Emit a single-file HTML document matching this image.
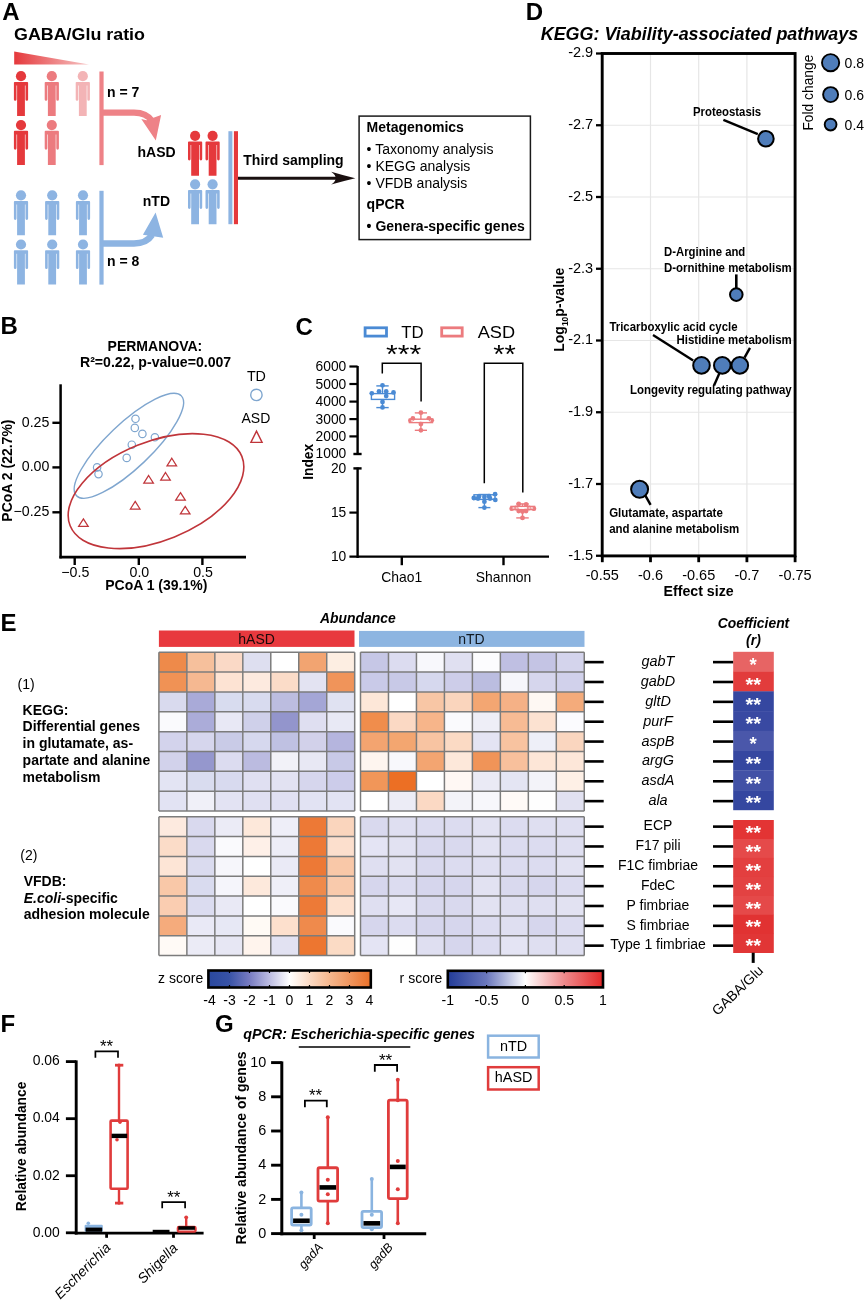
<!DOCTYPE html>
<html><head><meta charset="utf-8"><title>Figure</title>
<style>
html,body{margin:0;padding:0;background:#fff;}
body{width:865px;height:1302px;overflow:hidden;}
svg{display:block;font-family:"Liberation Sans", Arial, sans-serif;will-change:transform;}
</style></head>
<body>
<svg width="865" height="1302" viewBox="0 0 865 1302">
<rect width="865" height="1302" fill="#fff"/>
<text x="2.20" y="19.70" font-size="24" font-weight="bold">A</text>
<text x="14.00" y="40.20" font-size="17.3" font-weight="bold" textLength="131" lengthAdjust="spacingAndGlyphs">GABA/Glu ratio</text>
<defs><linearGradient id="tri" x1="0" x2="1" y1="0" y2="0"><stop offset="0" stop-color="#e5393c"/><stop offset="1" stop-color="#f6c4c4"/></linearGradient></defs>
<path d="M14.2,51.5 L89,64.4 L14.2,64.4 Z" fill="url(#tri)"/>
<g fill="#e5393c"><circle cx="21.00" cy="76.20" r="5.1"/><path d="M13.90,82.80 q0,-0.9 0.9,-0.9 h12.4 q0.9,0 0.9,0.9 v16.6 q0,1.4 -1.3,1.4 q-1.3,0 -1.3,-1.4 v-13.9 h-0.6 v30.6 h-7.8 v-30.6 h-0.6 v13.9 q0,1.4 -1.3,1.4 q-1.3,0 -1.3,-1.4 z"/></g>
<g fill="#ec7b7f"><circle cx="51.80" cy="76.20" r="5.1"/><path d="M44.70,82.80 q0,-0.9 0.9,-0.9 h12.4 q0.9,0 0.9,0.9 v16.6 q0,1.4 -1.3,1.4 q-1.3,0 -1.3,-1.4 v-13.9 h-0.6 v30.6 h-7.8 v-30.6 h-0.6 v13.9 q0,1.4 -1.3,1.4 q-1.3,0 -1.3,-1.4 z"/></g>
<g fill="#f3b4b6"><circle cx="82.80" cy="76.20" r="5.1"/><path d="M75.70,82.80 q0,-0.9 0.9,-0.9 h12.4 q0.9,0 0.9,0.9 v16.6 q0,1.4 -1.3,1.4 q-1.3,0 -1.3,-1.4 v-13.9 h-0.6 v30.6 h-7.8 v-30.6 h-0.6 v13.9 q0,1.4 -1.3,1.4 q-1.3,0 -1.3,-1.4 z"/></g>
<g fill="#e5393c"><circle cx="21.00" cy="125.10" r="5.1"/><path d="M13.90,131.70 q0,-0.9 0.9,-0.9 h12.4 q0.9,0 0.9,0.9 v16.6 q0,1.4 -1.3,1.4 q-1.3,0 -1.3,-1.4 v-13.9 h-0.6 v30.6 h-7.8 v-30.6 h-0.6 v13.9 q0,1.4 -1.3,1.4 q-1.3,0 -1.3,-1.4 z"/></g>
<g fill="#ec7b7f"><circle cx="51.80" cy="125.10" r="5.1"/><path d="M44.70,131.70 q0,-0.9 0.9,-0.9 h12.4 q0.9,0 0.9,0.9 v16.6 q0,1.4 -1.3,1.4 q-1.3,0 -1.3,-1.4 v-13.9 h-0.6 v30.6 h-7.8 v-30.6 h-0.6 v13.9 q0,1.4 -1.3,1.4 q-1.3,0 -1.3,-1.4 z"/></g>
<g fill="#8db4e2"><circle cx="21.00" cy="195.30" r="5.1"/><path d="M13.90,201.90 q0,-0.9 0.9,-0.9 h12.4 q0.9,0 0.9,0.9 v16.6 q0,1.4 -1.3,1.4 q-1.3,0 -1.3,-1.4 v-13.9 h-0.6 v30.6 h-7.8 v-30.6 h-0.6 v13.9 q0,1.4 -1.3,1.4 q-1.3,0 -1.3,-1.4 z"/></g>
<g fill="#8db4e2"><circle cx="52.20" cy="195.30" r="5.1"/><path d="M45.10,201.90 q0,-0.9 0.9,-0.9 h12.4 q0.9,0 0.9,0.9 v16.6 q0,1.4 -1.3,1.4 q-1.3,0 -1.3,-1.4 v-13.9 h-0.6 v30.6 h-7.8 v-30.6 h-0.6 v13.9 q0,1.4 -1.3,1.4 q-1.3,0 -1.3,-1.4 z"/></g>
<g fill="#8db4e2"><circle cx="83.00" cy="195.30" r="5.1"/><path d="M75.90,201.90 q0,-0.9 0.9,-0.9 h12.4 q0.9,0 0.9,0.9 v16.6 q0,1.4 -1.3,1.4 q-1.3,0 -1.3,-1.4 v-13.9 h-0.6 v30.6 h-7.8 v-30.6 h-0.6 v13.9 q0,1.4 -1.3,1.4 q-1.3,0 -1.3,-1.4 z"/></g>
<g fill="#8db4e2"><circle cx="21.00" cy="244.50" r="5.1"/><path d="M13.90,251.10 q0,-0.9 0.9,-0.9 h12.4 q0.9,0 0.9,0.9 v16.6 q0,1.4 -1.3,1.4 q-1.3,0 -1.3,-1.4 v-13.9 h-0.6 v30.6 h-7.8 v-30.6 h-0.6 v13.9 q0,1.4 -1.3,1.4 q-1.3,0 -1.3,-1.4 z"/></g>
<g fill="#8db4e2"><circle cx="52.20" cy="244.50" r="5.1"/><path d="M45.10,251.10 q0,-0.9 0.9,-0.9 h12.4 q0.9,0 0.9,0.9 v16.6 q0,1.4 -1.3,1.4 q-1.3,0 -1.3,-1.4 v-13.9 h-0.6 v30.6 h-7.8 v-30.6 h-0.6 v13.9 q0,1.4 -1.3,1.4 q-1.3,0 -1.3,-1.4 z"/></g>
<g fill="#8db4e2"><circle cx="83.00" cy="244.50" r="5.1"/><path d="M75.90,251.10 q0,-0.9 0.9,-0.9 h12.4 q0.9,0 0.9,0.9 v16.6 q0,1.4 -1.3,1.4 q-1.3,0 -1.3,-1.4 v-13.9 h-0.6 v30.6 h-7.8 v-30.6 h-0.6 v13.9 q0,1.4 -1.3,1.4 q-1.3,0 -1.3,-1.4 z"/></g>
<rect x="99.40" y="71.50" width="4.20" height="93.60" fill="#ee8287" stroke="none" stroke-width="1" />
<rect x="99.40" y="190.80" width="4.20" height="93.80" fill="#8db4e2" stroke="none" stroke-width="1" />
<path d="M103,112.6 H134 Q146.5,112.6 152,121" fill="none" stroke="#ee8287" stroke-width="6.3"/>
<path d="M141.3,119 L146.5,120.3 L161.1,115 L155.8,140.6 Z" fill="#ee8287"/>
<path d="M103,243.5 H134 Q146.5,243.5 152,235" fill="none" stroke="#8db4e2" stroke-width="6.5"/>
<path d="M142.9,234.8 L155.6,212.4 L163.2,237.8 L148,235.5 Z" fill="#8db4e2"/>
<text x="107.00" y="97.00" font-size="14" font-weight="bold">n = 7</text>
<text x="107.00" y="265.50" font-size="14" font-weight="bold">n = 8</text>
<text x="137.50" y="157.10" font-size="14" font-weight="bold">hASD</text>
<text x="142.80" y="205.60" font-size="14" font-weight="bold">nTD</text>
<g fill="#e5393c"><circle cx="195.10" cy="135.80" r="5.1"/><path d="M188.00,142.40 q0,-0.9 0.9,-0.9 h12.4 q0.9,0 0.9,0.9 v16.6 q0,1.4 -1.3,1.4 q-1.3,0 -1.3,-1.4 v-13.9 h-0.6 v30.6 h-7.8 v-30.6 h-0.6 v13.9 q0,1.4 -1.3,1.4 q-1.3,0 -1.3,-1.4 z"/></g>
<g fill="#8db4e2"><circle cx="195.10" cy="184.30" r="5.1"/><path d="M188.00,190.90 q0,-0.9 0.9,-0.9 h12.4 q0.9,0 0.9,0.9 v16.6 q0,1.4 -1.3,1.4 q-1.3,0 -1.3,-1.4 v-13.9 h-0.6 v30.6 h-7.8 v-30.6 h-0.6 v13.9 q0,1.4 -1.3,1.4 q-1.3,0 -1.3,-1.4 z"/></g>
<g fill="#e5393c"><circle cx="212.60" cy="135.80" r="5.1"/><path d="M205.50,142.40 q0,-0.9 0.9,-0.9 h12.4 q0.9,0 0.9,0.9 v16.6 q0,1.4 -1.3,1.4 q-1.3,0 -1.3,-1.4 v-13.9 h-0.6 v30.6 h-7.8 v-30.6 h-0.6 v13.9 q0,1.4 -1.3,1.4 q-1.3,0 -1.3,-1.4 z"/></g>
<g fill="#8db4e2"><circle cx="212.60" cy="184.30" r="5.1"/><path d="M205.50,190.90 q0,-0.9 0.9,-0.9 h12.4 q0.9,0 0.9,0.9 v16.6 q0,1.4 -1.3,1.4 q-1.3,0 -1.3,-1.4 v-13.9 h-0.6 v30.6 h-7.8 v-30.6 h-0.6 v13.9 q0,1.4 -1.3,1.4 q-1.3,0 -1.3,-1.4 z"/></g>
<rect x="228.40" y="131.20" width="4.00" height="93.00" fill="#8db4e2" stroke="none" stroke-width="1" />
<rect x="233.90" y="131.20" width="4.10" height="93.00" fill="#e5393c" stroke="none" stroke-width="1" />
<line x1="238.00" y1="178.20" x2="340.00" y2="178.20" stroke="#1a1010" stroke-width="2.9" />
<path d="M355.3,178.2 Q343,175.4 331.2,171.8 Q336,175.2 335.6,178.2 Q336,181.2 331.2,184.6 Q343,181 355.3,178.2 Z" fill="#1a1010"/>
<text x="243.30" y="165.30" font-size="14" font-weight="bold">Third sampling</text>
<rect x="359.10" y="116.10" width="171.30" height="123.50" fill="none" stroke="#1a1a1a" stroke-width="1.5" />
<text x="366.60" y="132.20" font-size="14" font-weight="bold">Metagenomics</text>
<text x="366.60" y="154.30" font-size="14">• Taxonomy analysis</text>
<text x="366.60" y="170.80" font-size="14">• KEGG analysis</text>
<text x="366.60" y="187.50" font-size="14">• VFDB analysis</text>
<text x="366.60" y="208.90" font-size="14" font-weight="bold">qPCR</text>
<text x="366.60" y="231.20" font-size="14" font-weight="bold">• Genera-specific genes</text>
<text x="0.50" y="333.80" font-size="24" font-weight="bold">B</text>
<text x="154.90" y="350.90" font-size="14" font-weight="bold" text-anchor="middle">PERMANOVA:</text>
<text x="155.60" y="367.10" font-size="14.1" font-weight="bold" text-anchor="middle">R²=0.22, p-value=0.007</text>
<line x1="60.60" y1="384.30" x2="60.60" y2="558.40" stroke="#000" stroke-width="2.5" />
<line x1="59.40" y1="557.10" x2="246.00" y2="557.10" stroke="#000" stroke-width="2.6" />
<line x1="52.40" y1="422.80" x2="60.60" y2="422.80" stroke="#000" stroke-width="2.4" />
<text x="49.40" y="426.50" font-size="14.2" text-anchor="end">0.25</text>
<line x1="52.40" y1="467.40" x2="60.60" y2="467.40" stroke="#000" stroke-width="2.4" />
<text x="49.40" y="471.10" font-size="14.2" text-anchor="end">0.00</text>
<line x1="52.40" y1="512.30" x2="60.60" y2="512.30" stroke="#000" stroke-width="2.4" />
<text x="49.40" y="516.00" font-size="14.2" text-anchor="end">−0.25</text>
<line x1="74.70" y1="557.00" x2="74.70" y2="565.00" stroke="#000" stroke-width="2.4" />
<text x="75.30" y="577.00" font-size="14.2" text-anchor="middle">−0.5</text>
<line x1="138.80" y1="557.00" x2="138.80" y2="565.00" stroke="#000" stroke-width="2.4" />
<text x="139.40" y="577.00" font-size="14.2" text-anchor="middle">0.0</text>
<line x1="202.40" y1="557.00" x2="202.40" y2="565.00" stroke="#000" stroke-width="2.4" />
<text x="203.00" y="577.00" font-size="14.2" text-anchor="middle">0.5</text>
<text x="156.30" y="590.30" font-size="14" font-weight="bold" text-anchor="middle">PCoA 1 (39.1%)</text>
<text x="11.60" y="470.60" font-size="14" font-weight="bold" text-anchor="middle" transform="rotate(-90 11.60 470.60)">PCoA 2 (22.7%)</text>
<circle cx="135.50" cy="418.80" r="3.70" fill="none" stroke="#7fa6cf" stroke-width="1.2"/>
<circle cx="134.80" cy="427.90" r="3.70" fill="none" stroke="#7fa6cf" stroke-width="1.2"/>
<circle cx="142.40" cy="433.90" r="3.70" fill="none" stroke="#7fa6cf" stroke-width="1.2"/>
<circle cx="154.90" cy="437.30" r="3.70" fill="none" stroke="#7fa6cf" stroke-width="1.2"/>
<circle cx="131.80" cy="444.70" r="3.70" fill="none" stroke="#7fa6cf" stroke-width="1.2"/>
<circle cx="126.70" cy="457.90" r="3.70" fill="none" stroke="#7fa6cf" stroke-width="1.2"/>
<circle cx="97.10" cy="467.40" r="3.70" fill="none" stroke="#7fa6cf" stroke-width="1.2"/>
<circle cx="98.50" cy="474.10" r="3.70" fill="none" stroke="#7fa6cf" stroke-width="1.2"/>
<path d="M171.80,458.24 L176.60,465.84 L167.00,465.84 Z" fill="none" stroke="#c0353a" stroke-width="1.25" stroke-linejoin="miter"/>
<path d="M165.50,472.54 L170.30,480.14 L160.70,480.14 Z" fill="none" stroke="#c0353a" stroke-width="1.25" stroke-linejoin="miter"/>
<path d="M148.60,475.54 L153.40,483.14 L143.80,483.14 Z" fill="none" stroke="#c0353a" stroke-width="1.25" stroke-linejoin="miter"/>
<path d="M180.50,492.64 L185.30,500.24 L175.70,500.24 Z" fill="none" stroke="#c0353a" stroke-width="1.25" stroke-linejoin="miter"/>
<path d="M185.20,506.34 L190.00,513.94 L180.40,513.94 Z" fill="none" stroke="#c0353a" stroke-width="1.25" stroke-linejoin="miter"/>
<path d="M135.20,501.44 L140.00,509.04 L130.40,509.04 Z" fill="none" stroke="#c0353a" stroke-width="1.25" stroke-linejoin="miter"/>
<path d="M83.40,518.84 L88.20,526.44 L78.60,526.44 Z" fill="none" stroke="#c0353a" stroke-width="1.25" stroke-linejoin="miter"/>
<ellipse cx="128.9" cy="445.8" rx="72.4" ry="22.2" transform="rotate(-43.6 128.9 445.8)" fill="none" stroke="#7fa6cf" stroke-width="1.4"/>
<ellipse cx="156" cy="491.1" rx="92.6" ry="49.4" transform="rotate(-22 156 491.1)" fill="none" stroke="#c0353a" stroke-width="1.6"/>
<text x="246.90" y="380.90" font-size="14.3">TD</text>
<circle cx="256.40" cy="394.90" r="5.70" fill="none" stroke="#7fa6cf" stroke-width="1.4"/>
<text x="241.50" y="423.30" font-size="14">ASD</text>
<path d="M256.50,431.18 L262.10,442.38 L250.90,442.38 Z" fill="none" stroke="#c0353a" stroke-width="1.4" stroke-linejoin="miter"/>
<text x="295.40" y="334.50" font-size="24" font-weight="bold">C</text>
<rect x="365.10" y="327.80" width="21.40" height="8.30" fill="none" stroke="#4a8ad4" stroke-width="2.8" />
<text x="401.20" y="337.50" font-size="16.8">TD</text>
<rect x="441.70" y="327.80" width="20.50" height="8.30" fill="none" stroke="#ec7b7e" stroke-width="2.8" />
<text x="477.70" y="337.50" font-size="16.8" textLength="37.4" lengthAdjust="spacingAndGlyphs">ASD</text>
<path d="M382.3,373.6 V363.3 H421.1 V401.5" fill="none" stroke="#000" stroke-width="1.5"/>
<path d="M484.3,483.2 V363.3 H522.8 V492.5" fill="none" stroke="#000" stroke-width="1.5"/>
<text x="403.70" y="363.00" font-size="26.5" text-anchor="middle" textLength="35.2" lengthAdjust="spacingAndGlyphs">***</text>
<text x="504.50" y="363.00" font-size="26.5" text-anchor="middle" textLength="22.6" lengthAdjust="spacingAndGlyphs">**</text>
<line x1="357.60" y1="366.00" x2="357.60" y2="455.00" stroke="#000" stroke-width="2.4" />
<line x1="357.60" y1="467.50" x2="357.60" y2="558.00" stroke="#000" stroke-width="2.4" />
<line x1="353.40" y1="454.00" x2="361.60" y2="454.00" stroke="#000" stroke-width="2.4" />
<line x1="353.40" y1="468.40" x2="361.60" y2="468.40" stroke="#000" stroke-width="2.4" />
<line x1="349.40" y1="366.50" x2="357.60" y2="366.50" stroke="#000" stroke-width="2.2" />
<text x="346.30" y="371.00" font-size="13.8" text-anchor="end">6000</text>
<line x1="349.40" y1="384.00" x2="357.60" y2="384.00" stroke="#000" stroke-width="2.2" />
<text x="346.30" y="388.50" font-size="13.8" text-anchor="end">5000</text>
<line x1="349.40" y1="401.60" x2="357.60" y2="401.60" stroke="#000" stroke-width="2.2" />
<text x="346.30" y="406.10" font-size="13.8" text-anchor="end">4000</text>
<line x1="349.40" y1="419.10" x2="357.60" y2="419.10" stroke="#000" stroke-width="2.2" />
<text x="346.30" y="423.60" font-size="13.8" text-anchor="end">3000</text>
<line x1="349.40" y1="436.40" x2="357.60" y2="436.40" stroke="#000" stroke-width="2.2" />
<text x="346.30" y="440.90" font-size="13.8" text-anchor="end">2000</text>
<text x="346.30" y="458.40" font-size="13.8" text-anchor="end">1000</text>
<text x="346.30" y="472.90" font-size="13.8" text-anchor="end">20</text>
<line x1="349.40" y1="512.60" x2="357.60" y2="512.60" stroke="#000" stroke-width="2.2" />
<text x="346.30" y="517.10" font-size="13.8" text-anchor="end">15</text>
<text x="346.30" y="561.10" font-size="13.8" text-anchor="end">10</text>
<line x1="349.40" y1="556.60" x2="549.00" y2="556.60" stroke="#000" stroke-width="2.4" />
<line x1="401.80" y1="556.60" x2="401.80" y2="565.20" stroke="#000" stroke-width="2.4" />
<line x1="503.50" y1="556.60" x2="503.50" y2="565.20" stroke="#000" stroke-width="2.4" />
<text x="401.80" y="581.80" font-size="13.9" text-anchor="middle">Chao1</text>
<text x="503.50" y="581.80" font-size="13.9" text-anchor="middle">Shannon</text>
<text x="312.60" y="461.80" font-size="13.8" font-weight="bold" text-anchor="middle" transform="rotate(-90 312.60 461.80)">Index</text>
<line x1="382.50" y1="385.90" x2="382.50" y2="407.60" stroke="#4a8ad4" stroke-width="1.4" />
<line x1="376.30" y1="385.90" x2="388.70" y2="385.90" stroke="#4a8ad4" stroke-width="1.4" />
<line x1="376.30" y1="407.60" x2="388.70" y2="407.60" stroke="#4a8ad4" stroke-width="1.4" />
<rect x="371.40" y="393.60" width="23.20" height="5.80" fill="#fff" stroke="#4a8ad4" stroke-width="1.4" />
<circle cx="382.50" cy="385.30" r="2.40" fill="#4a8ad4" stroke="none" stroke-width="1"/>
<circle cx="379.00" cy="391.50" r="2.40" fill="#4a8ad4" stroke="none" stroke-width="1"/>
<circle cx="386.20" cy="391.50" r="2.40" fill="#4a8ad4" stroke="none" stroke-width="1"/>
<circle cx="371.80" cy="393.30" r="2.40" fill="#4a8ad4" stroke="none" stroke-width="1"/>
<circle cx="393.50" cy="392.40" r="2.40" fill="#4a8ad4" stroke="none" stroke-width="1"/>
<circle cx="386.20" cy="396.10" r="2.40" fill="#4a8ad4" stroke="none" stroke-width="1"/>
<circle cx="382.50" cy="402.00" r="2.40" fill="#4a8ad4" stroke="none" stroke-width="1"/>
<circle cx="382.50" cy="407.40" r="2.40" fill="#4a8ad4" stroke="none" stroke-width="1"/>
<line x1="420.90" y1="412.90" x2="420.90" y2="430.30" stroke="#ec7b7e" stroke-width="1.4" />
<line x1="414.80" y1="412.90" x2="427.00" y2="412.90" stroke="#ec7b7e" stroke-width="1.4" />
<line x1="414.80" y1="430.30" x2="427.00" y2="430.30" stroke="#ec7b7e" stroke-width="1.4" />
<rect x="409.40" y="419.20" width="23.10" height="3.40" fill="#fff" stroke="#ec7b7e" stroke-width="1.4" />
<circle cx="420.90" cy="412.70" r="2.40" fill="#ec7b7e" stroke="none" stroke-width="1"/>
<circle cx="412.90" cy="418.50" r="2.40" fill="#ec7b7e" stroke="none" stroke-width="1"/>
<circle cx="428.90" cy="418.30" r="2.40" fill="#ec7b7e" stroke="none" stroke-width="1"/>
<circle cx="431.70" cy="420.30" r="2.40" fill="#ec7b7e" stroke="none" stroke-width="1"/>
<circle cx="420.90" cy="424.00" r="2.40" fill="#ec7b7e" stroke="none" stroke-width="1"/>
<circle cx="420.90" cy="430.30" r="2.40" fill="#ec7b7e" stroke="none" stroke-width="1"/>
<circle cx="410.50" cy="420.60" r="2.40" fill="#ec7b7e" stroke="none" stroke-width="1"/>
<line x1="410.90" y1="420.90" x2="431.00" y2="420.90" stroke="#fff" stroke-width="1" stroke-dasharray="2 1.2"/>
<line x1="484.40" y1="494.50" x2="484.40" y2="507.60" stroke="#4a8ad4" stroke-width="1.4" />
<line x1="478.40" y1="494.50" x2="490.40" y2="494.50" stroke="#4a8ad4" stroke-width="1.4" />
<line x1="478.40" y1="507.60" x2="490.40" y2="507.60" stroke="#4a8ad4" stroke-width="1.4" />
<rect x="474.00" y="494.80" width="21.00" height="4.60" fill="#fff" stroke="#4a8ad4" stroke-width="1.4" />
<circle cx="473.80" cy="498.00" r="2.40" fill="#4a8ad4" stroke="none" stroke-width="1"/>
<circle cx="495.10" cy="494.20" r="2.40" fill="#4a8ad4" stroke="none" stroke-width="1"/>
<circle cx="495.30" cy="499.90" r="2.40" fill="#4a8ad4" stroke="none" stroke-width="1"/>
<circle cx="484.40" cy="501.70" r="2.40" fill="#4a8ad4" stroke="none" stroke-width="1"/>
<circle cx="484.40" cy="507.60" r="2.40" fill="#4a8ad4" stroke="none" stroke-width="1"/>
<circle cx="479.00" cy="496.50" r="2.40" fill="#4a8ad4" stroke="none" stroke-width="1"/>
<circle cx="489.00" cy="496.20" r="2.40" fill="#4a8ad4" stroke="none" stroke-width="1"/>
<circle cx="484.40" cy="497.00" r="2.40" fill="#4a8ad4" stroke="none" stroke-width="1"/>
<circle cx="478.00" cy="498.50" r="2.40" fill="#4a8ad4" stroke="none" stroke-width="1"/>
<circle cx="490.00" cy="498.50" r="2.40" fill="#4a8ad4" stroke="none" stroke-width="1"/>
<line x1="522.50" y1="503.90" x2="522.50" y2="517.90" stroke="#ec7b7e" stroke-width="1.4" />
<line x1="516.25" y1="503.90" x2="528.75" y2="503.90" stroke="#ec7b7e" stroke-width="1.4" />
<line x1="516.25" y1="517.90" x2="528.75" y2="517.90" stroke="#ec7b7e" stroke-width="1.4" />
<rect x="511.00" y="506.40" width="23.60" height="3.20" fill="#fff" stroke="#ec7b7e" stroke-width="1.4" />
<circle cx="518.70" cy="503.90" r="2.40" fill="#ec7b7e" stroke="none" stroke-width="1"/>
<circle cx="526.10" cy="504.50" r="2.40" fill="#ec7b7e" stroke="none" stroke-width="1"/>
<circle cx="511.70" cy="508.70" r="2.40" fill="#ec7b7e" stroke="none" stroke-width="1"/>
<circle cx="533.90" cy="508.70" r="2.40" fill="#ec7b7e" stroke="none" stroke-width="1"/>
<circle cx="518.70" cy="511.00" r="2.40" fill="#ec7b7e" stroke="none" stroke-width="1"/>
<circle cx="526.10" cy="511.00" r="2.40" fill="#ec7b7e" stroke="none" stroke-width="1"/>
<circle cx="522.50" cy="517.90" r="2.40" fill="#ec7b7e" stroke="none" stroke-width="1"/>
<circle cx="516.00" cy="508.00" r="2.40" fill="#ec7b7e" stroke="none" stroke-width="1"/>
<circle cx="529.00" cy="508.00" r="2.40" fill="#ec7b7e" stroke="none" stroke-width="1"/>
<circle cx="522.50" cy="511.50" r="2.40" fill="#ec7b7e" stroke="none" stroke-width="1"/>
<line x1="512.50" y1="508.00" x2="533.10" y2="508.00" stroke="#fff" stroke-width="1" stroke-dasharray="2 1.2"/>
<text x="525.70" y="19.70" font-size="24" font-weight="bold">D</text>
<text x="540.70" y="40.10" font-size="17.6" font-weight="bold" font-style="italic" textLength="317.5" lengthAdjust="spacingAndGlyphs">KEGG: Viability-associated pathways</text>
<line x1="650.50" y1="54.50" x2="650.50" y2="554.70" stroke="#e6e6e6" stroke-width="1.2" />
<line x1="698.70" y1="54.50" x2="698.70" y2="554.70" stroke="#e6e6e6" stroke-width="1.2" />
<line x1="746.90" y1="54.50" x2="746.90" y2="554.70" stroke="#e6e6e6" stroke-width="1.2" />
<line x1="603.50" y1="125.25" x2="794.00" y2="125.25" stroke="#e6e6e6" stroke-width="1.2" />
<line x1="603.50" y1="197.00" x2="794.00" y2="197.00" stroke="#e6e6e6" stroke-width="1.2" />
<line x1="603.50" y1="268.75" x2="794.00" y2="268.75" stroke="#e6e6e6" stroke-width="1.2" />
<line x1="603.50" y1="340.50" x2="794.00" y2="340.50" stroke="#e6e6e6" stroke-width="1.2" />
<line x1="603.50" y1="412.25" x2="794.00" y2="412.25" stroke="#e6e6e6" stroke-width="1.2" />
<line x1="603.50" y1="484.00" x2="794.00" y2="484.00" stroke="#e6e6e6" stroke-width="1.2" />
<rect x="602.20" y="53.50" width="192.90" height="502.40" fill="none" stroke="#000" stroke-width="2.9" />
<line x1="596.00" y1="53.50" x2="602.30" y2="53.50" stroke="#000" stroke-width="2.3" />
<text x="593.20" y="57.40" font-size="14.5" text-anchor="end">-2.9</text>
<line x1="596.00" y1="125.25" x2="602.30" y2="125.25" stroke="#000" stroke-width="2.3" />
<text x="593.20" y="129.15" font-size="14.5" text-anchor="end">-2.7</text>
<line x1="596.00" y1="197.00" x2="602.30" y2="197.00" stroke="#000" stroke-width="2.3" />
<text x="593.20" y="200.90" font-size="14.5" text-anchor="end">-2.5</text>
<line x1="596.00" y1="268.75" x2="602.30" y2="268.75" stroke="#000" stroke-width="2.3" />
<text x="593.20" y="272.65" font-size="14.5" text-anchor="end">-2.3</text>
<line x1="596.00" y1="340.50" x2="602.30" y2="340.50" stroke="#000" stroke-width="2.3" />
<text x="593.20" y="344.40" font-size="14.5" text-anchor="end">-2.1</text>
<line x1="596.00" y1="412.25" x2="602.30" y2="412.25" stroke="#000" stroke-width="2.3" />
<text x="593.20" y="416.15" font-size="14.5" text-anchor="end">-1.9</text>
<line x1="596.00" y1="484.00" x2="602.30" y2="484.00" stroke="#000" stroke-width="2.3" />
<text x="593.20" y="487.90" font-size="14.5" text-anchor="end">-1.7</text>
<line x1="596.00" y1="555.75" x2="602.30" y2="555.75" stroke="#000" stroke-width="2.3" />
<text x="593.20" y="559.65" font-size="14.5" text-anchor="end">-1.5</text>
<line x1="602.30" y1="555.70" x2="602.30" y2="562.20" stroke="#000" stroke-width="2.8" />
<text x="602.30" y="580.30" font-size="14.5" text-anchor="middle">-0.55</text>
<line x1="650.50" y1="555.70" x2="650.50" y2="562.20" stroke="#000" stroke-width="2.8" />
<text x="650.50" y="580.30" font-size="14.5" text-anchor="middle">-0.6</text>
<line x1="698.70" y1="555.70" x2="698.70" y2="562.20" stroke="#000" stroke-width="2.8" />
<text x="698.70" y="580.30" font-size="14.5" text-anchor="middle">-0.65</text>
<line x1="746.90" y1="555.70" x2="746.90" y2="562.20" stroke="#000" stroke-width="2.8" />
<text x="746.90" y="580.30" font-size="14.5" text-anchor="middle">-0.7</text>
<line x1="795.10" y1="555.70" x2="795.10" y2="562.20" stroke="#000" stroke-width="2.8" />
<text x="795.10" y="580.30" font-size="14.5" text-anchor="middle">-0.75</text>
<text x="698.60" y="596.40" font-size="14.2" font-weight="bold" text-anchor="middle">Effect size</text>
<text x="564.40" y="309.70" font-size="14" font-weight="bold" text-anchor="middle" transform="rotate(-90 564.40 309.70)">Log<tspan font-size="8.5" dy="3.2">10</tspan><tspan dy="-3.2">p-value</tspan></text>
<line x1="723.40" y1="119.90" x2="757.80" y2="134.10" stroke="#000" stroke-width="2.4" />
<line x1="736.30" y1="274.40" x2="736.30" y2="290.00" stroke="#000" stroke-width="2.6" />
<line x1="653.00" y1="334.90" x2="693.20" y2="360.40" stroke="#000" stroke-width="2.4" />
<line x1="750.00" y1="347.90" x2="744.50" y2="357.60" stroke="#000" stroke-width="2.4" />
<line x1="719.50" y1="372.90" x2="714.00" y2="385.40" stroke="#000" stroke-width="2.4" />
<line x1="645.40" y1="495.60" x2="650.60" y2="504.90" stroke="#000" stroke-width="2.4" />
<circle cx="765.90" cy="138.70" r="7.80" fill="#4f7dba" stroke="#000" stroke-width="2"/>
<circle cx="736.30" cy="294.60" r="6.30" fill="#4f7dba" stroke="#000" stroke-width="2"/>
<circle cx="701.50" cy="365.40" r="8.30" fill="#4f7dba" stroke="#000" stroke-width="2"/>
<circle cx="722.30" cy="365.40" r="8.30" fill="#4f7dba" stroke="#000" stroke-width="2"/>
<circle cx="739.80" cy="365.40" r="8.30" fill="#4f7dba" stroke="#000" stroke-width="2"/>
<circle cx="639.60" cy="489.20" r="8.50" fill="#4f7dba" stroke="#000" stroke-width="2"/>
<text x="693.00" y="115.90" font-size="13.2" font-weight="bold" textLength="68.2" lengthAdjust="spacingAndGlyphs">Proteostasis</text>
<text x="664.00" y="255.50" font-size="13.2" font-weight="bold" textLength="81.3" lengthAdjust="spacingAndGlyphs">D-Arginine and</text>
<text x="664.00" y="272.20" font-size="13.2" font-weight="bold" textLength="127.7" lengthAdjust="spacingAndGlyphs">D-ornithine metabolism</text>
<text x="609.40" y="331.30" font-size="13.2" font-weight="bold" textLength="128.2" lengthAdjust="spacingAndGlyphs">Tricarboxylic acid cycle</text>
<text x="676.50" y="343.80" font-size="13.2" font-weight="bold" textLength="115.2" lengthAdjust="spacingAndGlyphs">Histidine metabolism</text>
<text x="629.90" y="393.70" font-size="13.2" font-weight="bold" textLength="161.8" lengthAdjust="spacingAndGlyphs">Longevity regulating pathway</text>
<text x="609.20" y="517.30" font-size="13.2" font-weight="bold" textLength="113.6" lengthAdjust="spacingAndGlyphs">Glutamate, aspartate</text>
<text x="609.20" y="533.20" font-size="13.2" font-weight="bold" textLength="130.1" lengthAdjust="spacingAndGlyphs">and alanine metabolism</text>
<circle cx="830.60" cy="62.70" r="8.60" fill="#4f7dba" stroke="#000" stroke-width="1.9"/>
<text x="844.60" y="67.70" font-size="14">0.8</text>
<circle cx="830.60" cy="94.60" r="7.50" fill="#4f7dba" stroke="#000" stroke-width="1.9"/>
<text x="844.60" y="99.60" font-size="14">0.6</text>
<circle cx="830.60" cy="124.60" r="5.90" fill="#4f7dba" stroke="#000" stroke-width="1.9"/>
<text x="844.60" y="129.60" font-size="14">0.4</text>
<text x="812.60" y="92.60" font-size="13.8" text-anchor="middle" transform="rotate(-90 812.60 92.60)">Fold change</text>
<text x="0.50" y="630.60" font-size="24" font-weight="bold">E</text>
<text x="320.00" y="622.80" font-size="14" font-weight="bold" font-style="italic" textLength="75.8" lengthAdjust="spacingAndGlyphs">Abundance</text>
<rect x="158.90" y="630.50" width="195.60" height="16.40" fill="#e8393e" stroke="none" stroke-width="1" />
<text x="256.60" y="644.30" font-size="14" text-anchor="middle" fill="#1a0a0a">hASD</text>
<rect x="359.00" y="630.90" width="225.50" height="16.00" fill="#8db5e1" stroke="none" stroke-width="1" />
<text x="471.50" y="643.60" font-size="14" text-anchor="middle" fill="#101820">nTD</text>
<rect x="158.90" y="652.20" width="27.97" height="19.86" fill="#ee8a4a" stroke="none" stroke-width="1" />
<rect x="186.87" y="652.20" width="27.97" height="19.86" fill="#f6c09c" stroke="none" stroke-width="1" />
<rect x="214.84" y="652.20" width="27.97" height="19.86" fill="#fad9c6" stroke="none" stroke-width="1" />
<rect x="242.81" y="652.20" width="27.97" height="19.86" fill="#dedff0" stroke="none" stroke-width="1" />
<rect x="270.78" y="652.20" width="27.97" height="19.86" fill="#ffffff" stroke="none" stroke-width="1" />
<rect x="298.75" y="652.20" width="27.97" height="19.86" fill="#f2a471" stroke="none" stroke-width="1" />
<rect x="326.72" y="652.20" width="27.97" height="19.86" fill="#fdeee2" stroke="none" stroke-width="1" />
<rect x="158.90" y="672.06" width="27.97" height="19.86" fill="#f09255" stroke="none" stroke-width="1" />
<rect x="186.87" y="672.06" width="27.97" height="19.86" fill="#f5b891" stroke="none" stroke-width="1" />
<rect x="214.84" y="672.06" width="27.97" height="19.86" fill="#fde3d3" stroke="none" stroke-width="1" />
<rect x="242.81" y="672.06" width="27.97" height="19.86" fill="#fdeadf" stroke="none" stroke-width="1" />
<rect x="270.78" y="672.06" width="27.97" height="19.86" fill="#fbdcc8" stroke="none" stroke-width="1" />
<rect x="298.75" y="672.06" width="27.97" height="19.86" fill="#e3e3f2" stroke="none" stroke-width="1" />
<rect x="326.72" y="672.06" width="27.97" height="19.86" fill="#f0945a" stroke="none" stroke-width="1" />
<rect x="158.90" y="691.92" width="27.97" height="19.86" fill="#d9daee" stroke="none" stroke-width="1" />
<rect x="186.87" y="691.92" width="27.97" height="19.86" fill="#a9aad8" stroke="none" stroke-width="1" />
<rect x="214.84" y="691.92" width="27.97" height="19.86" fill="#d8dcef" stroke="none" stroke-width="1" />
<rect x="242.81" y="691.92" width="27.97" height="19.86" fill="#d8dbef" stroke="none" stroke-width="1" />
<rect x="270.78" y="691.92" width="27.97" height="19.86" fill="#bcbde0" stroke="none" stroke-width="1" />
<rect x="298.75" y="691.92" width="27.97" height="19.86" fill="#a4a6d6" stroke="none" stroke-width="1" />
<rect x="326.72" y="691.92" width="27.97" height="19.86" fill="#e0e2f2" stroke="none" stroke-width="1" />
<rect x="158.90" y="711.78" width="27.97" height="19.86" fill="#fafafd" stroke="none" stroke-width="1" />
<rect x="186.87" y="711.78" width="27.97" height="19.86" fill="#abacd9" stroke="none" stroke-width="1" />
<rect x="214.84" y="711.78" width="27.97" height="19.86" fill="#e8e8f5" stroke="none" stroke-width="1" />
<rect x="242.81" y="711.78" width="27.97" height="19.86" fill="#cfd0ea" stroke="none" stroke-width="1" />
<rect x="270.78" y="711.78" width="27.97" height="19.86" fill="#9395cc" stroke="none" stroke-width="1" />
<rect x="298.75" y="711.78" width="27.97" height="19.86" fill="#dfdff1" stroke="none" stroke-width="1" />
<rect x="326.72" y="711.78" width="27.97" height="19.86" fill="#e8e9f5" stroke="none" stroke-width="1" />
<rect x="158.90" y="731.64" width="27.97" height="19.86" fill="#d3d3ec" stroke="none" stroke-width="1" />
<rect x="186.87" y="731.64" width="27.97" height="19.86" fill="#d6d6ed" stroke="none" stroke-width="1" />
<rect x="214.84" y="731.64" width="27.97" height="19.86" fill="#c9cbe7" stroke="none" stroke-width="1" />
<rect x="242.81" y="731.64" width="27.97" height="19.86" fill="#d6d8ee" stroke="none" stroke-width="1" />
<rect x="270.78" y="731.64" width="27.97" height="19.86" fill="#bfc1e2" stroke="none" stroke-width="1" />
<rect x="298.75" y="731.64" width="27.97" height="19.86" fill="#d2d1ea" stroke="none" stroke-width="1" />
<rect x="326.72" y="731.64" width="27.97" height="19.86" fill="#b5b5de" stroke="none" stroke-width="1" />
<rect x="158.90" y="751.50" width="27.97" height="19.86" fill="#d2d2eb" stroke="none" stroke-width="1" />
<rect x="186.87" y="751.50" width="27.97" height="19.86" fill="#9597cd" stroke="none" stroke-width="1" />
<rect x="214.84" y="751.50" width="27.97" height="19.86" fill="#dcdcf0" stroke="none" stroke-width="1" />
<rect x="242.81" y="751.50" width="27.97" height="19.86" fill="#bbbbe0" stroke="none" stroke-width="1" />
<rect x="270.78" y="751.50" width="27.97" height="19.86" fill="#f2f2f8" stroke="none" stroke-width="1" />
<rect x="298.75" y="751.50" width="27.97" height="19.86" fill="#e8e8f4" stroke="none" stroke-width="1" />
<rect x="326.72" y="751.50" width="27.97" height="19.86" fill="#c8c9e7" stroke="none" stroke-width="1" />
<rect x="158.90" y="771.36" width="27.97" height="19.86" fill="#e3e4f3" stroke="none" stroke-width="1" />
<rect x="186.87" y="771.36" width="27.97" height="19.86" fill="#d9dcef" stroke="none" stroke-width="1" />
<rect x="214.84" y="771.36" width="27.97" height="19.86" fill="#d8daef" stroke="none" stroke-width="1" />
<rect x="242.81" y="771.36" width="27.97" height="19.86" fill="#e0e0f2" stroke="none" stroke-width="1" />
<rect x="270.78" y="771.36" width="27.97" height="19.86" fill="#e2e2f2" stroke="none" stroke-width="1" />
<rect x="298.75" y="771.36" width="27.97" height="19.86" fill="#d6d6ed" stroke="none" stroke-width="1" />
<rect x="326.72" y="771.36" width="27.97" height="19.86" fill="#ccccea" stroke="none" stroke-width="1" />
<rect x="158.90" y="791.22" width="27.97" height="19.86" fill="#e2e3f3" stroke="none" stroke-width="1" />
<rect x="186.87" y="791.22" width="27.97" height="19.86" fill="#f0f0f8" stroke="none" stroke-width="1" />
<rect x="214.84" y="791.22" width="27.97" height="19.86" fill="#e3e3f3" stroke="none" stroke-width="1" />
<rect x="242.81" y="791.22" width="27.97" height="19.86" fill="#e0e0f2" stroke="none" stroke-width="1" />
<rect x="270.78" y="791.22" width="27.97" height="19.86" fill="#e0e0f2" stroke="none" stroke-width="1" />
<rect x="298.75" y="791.22" width="27.97" height="19.86" fill="#e2e3f3" stroke="none" stroke-width="1" />
<rect x="326.72" y="791.22" width="27.97" height="19.86" fill="#e2e3f3" stroke="none" stroke-width="1" />
<line x1="158.90" y1="652.20" x2="158.90" y2="811.08" stroke="#7c7c7c" stroke-width="1.5" />
<line x1="186.87" y1="652.20" x2="186.87" y2="811.08" stroke="#7c7c7c" stroke-width="1.5" />
<line x1="214.84" y1="652.20" x2="214.84" y2="811.08" stroke="#7c7c7c" stroke-width="1.5" />
<line x1="242.81" y1="652.20" x2="242.81" y2="811.08" stroke="#7c7c7c" stroke-width="1.5" />
<line x1="270.78" y1="652.20" x2="270.78" y2="811.08" stroke="#7c7c7c" stroke-width="1.5" />
<line x1="298.75" y1="652.20" x2="298.75" y2="811.08" stroke="#7c7c7c" stroke-width="1.5" />
<line x1="326.72" y1="652.20" x2="326.72" y2="811.08" stroke="#7c7c7c" stroke-width="1.5" />
<line x1="354.69" y1="652.20" x2="354.69" y2="811.08" stroke="#7c7c7c" stroke-width="1.5" />
<line x1="158.90" y1="652.20" x2="354.69" y2="652.20" stroke="#7c7c7c" stroke-width="1.5" />
<line x1="158.90" y1="672.06" x2="354.69" y2="672.06" stroke="#7c7c7c" stroke-width="1.5" />
<line x1="158.90" y1="691.92" x2="354.69" y2="691.92" stroke="#7c7c7c" stroke-width="1.5" />
<line x1="158.90" y1="711.78" x2="354.69" y2="711.78" stroke="#7c7c7c" stroke-width="1.5" />
<line x1="158.90" y1="731.64" x2="354.69" y2="731.64" stroke="#7c7c7c" stroke-width="1.5" />
<line x1="158.90" y1="751.50" x2="354.69" y2="751.50" stroke="#7c7c7c" stroke-width="1.5" />
<line x1="158.90" y1="771.36" x2="354.69" y2="771.36" stroke="#7c7c7c" stroke-width="1.5" />
<line x1="158.90" y1="791.22" x2="354.69" y2="791.22" stroke="#7c7c7c" stroke-width="1.5" />
<line x1="158.90" y1="811.08" x2="354.69" y2="811.08" stroke="#7c7c7c" stroke-width="1.5" />
<rect x="360.50" y="652.20" width="27.97" height="19.86" fill="#c6c7e6" stroke="none" stroke-width="1" />
<rect x="388.47" y="652.20" width="27.97" height="19.86" fill="#dcdcf0" stroke="none" stroke-width="1" />
<rect x="416.44" y="652.20" width="27.97" height="19.86" fill="#f8f8fc" stroke="none" stroke-width="1" />
<rect x="444.41" y="652.20" width="27.97" height="19.86" fill="#e0e0f1" stroke="none" stroke-width="1" />
<rect x="472.38" y="652.20" width="27.97" height="19.86" fill="#fcfcfe" stroke="none" stroke-width="1" />
<rect x="500.35" y="652.20" width="27.97" height="19.86" fill="#bfbfe2" stroke="none" stroke-width="1" />
<rect x="528.32" y="652.20" width="27.97" height="19.86" fill="#c4c4e4" stroke="none" stroke-width="1" />
<rect x="556.29" y="652.20" width="27.97" height="19.86" fill="#d4d4ec" stroke="none" stroke-width="1" />
<rect x="360.50" y="672.06" width="27.97" height="19.86" fill="#c9cae8" stroke="none" stroke-width="1" />
<rect x="388.47" y="672.06" width="27.97" height="19.86" fill="#c8c9e7" stroke="none" stroke-width="1" />
<rect x="416.44" y="672.06" width="27.97" height="19.86" fill="#d6d8ee" stroke="none" stroke-width="1" />
<rect x="444.41" y="672.06" width="27.97" height="19.86" fill="#cdcde9" stroke="none" stroke-width="1" />
<rect x="472.38" y="672.06" width="27.97" height="19.86" fill="#bbbde0" stroke="none" stroke-width="1" />
<rect x="500.35" y="672.06" width="27.97" height="19.86" fill="#f6f6fb" stroke="none" stroke-width="1" />
<rect x="528.32" y="672.06" width="27.97" height="19.86" fill="#d6d6ed" stroke="none" stroke-width="1" />
<rect x="556.29" y="672.06" width="27.97" height="19.86" fill="#d1d1eb" stroke="none" stroke-width="1" />
<rect x="360.50" y="691.92" width="27.97" height="19.86" fill="#fde7d8" stroke="none" stroke-width="1" />
<rect x="388.47" y="691.92" width="27.97" height="19.86" fill="#ffffff" stroke="none" stroke-width="1" />
<rect x="416.44" y="691.92" width="27.97" height="19.86" fill="#f8c6a5" stroke="none" stroke-width="1" />
<rect x="444.41" y="691.92" width="27.97" height="19.86" fill="#fad5bd" stroke="none" stroke-width="1" />
<rect x="472.38" y="691.92" width="27.97" height="19.86" fill="#f3a672" stroke="none" stroke-width="1" />
<rect x="500.35" y="691.92" width="27.97" height="19.86" fill="#f5b186" stroke="none" stroke-width="1" />
<rect x="528.32" y="691.92" width="27.97" height="19.86" fill="#fef8f3" stroke="none" stroke-width="1" />
<rect x="556.29" y="691.92" width="27.97" height="19.86" fill="#f4ab7b" stroke="none" stroke-width="1" />
<rect x="360.50" y="711.78" width="27.97" height="19.86" fill="#f08d4c" stroke="none" stroke-width="1" />
<rect x="388.47" y="711.78" width="27.97" height="19.86" fill="#fbd9c4" stroke="none" stroke-width="1" />
<rect x="416.44" y="711.78" width="27.97" height="19.86" fill="#f7b58a" stroke="none" stroke-width="1" />
<rect x="444.41" y="711.78" width="27.97" height="19.86" fill="#fafafd" stroke="none" stroke-width="1" />
<rect x="472.38" y="711.78" width="27.97" height="19.86" fill="#eeeef7" stroke="none" stroke-width="1" />
<rect x="500.35" y="711.78" width="27.97" height="19.86" fill="#f7bb94" stroke="none" stroke-width="1" />
<rect x="528.32" y="711.78" width="27.97" height="19.86" fill="#fce2d1" stroke="none" stroke-width="1" />
<rect x="556.29" y="711.78" width="27.97" height="19.86" fill="#fbfbfe" stroke="none" stroke-width="1" />
<rect x="360.50" y="731.64" width="27.97" height="19.86" fill="#f3a470" stroke="none" stroke-width="1" />
<rect x="388.47" y="731.64" width="27.97" height="19.86" fill="#f3a670" stroke="none" stroke-width="1" />
<rect x="416.44" y="731.64" width="27.97" height="19.86" fill="#f8c4a2" stroke="none" stroke-width="1" />
<rect x="444.41" y="731.64" width="27.97" height="19.86" fill="#fbdac4" stroke="none" stroke-width="1" />
<rect x="472.38" y="731.64" width="27.97" height="19.86" fill="#e4e4f3" stroke="none" stroke-width="1" />
<rect x="500.35" y="731.64" width="27.97" height="19.86" fill="#f8c3a0" stroke="none" stroke-width="1" />
<rect x="528.32" y="731.64" width="27.97" height="19.86" fill="#eeeff8" stroke="none" stroke-width="1" />
<rect x="556.29" y="731.64" width="27.97" height="19.86" fill="#fad6bf" stroke="none" stroke-width="1" />
<rect x="360.50" y="751.50" width="27.97" height="19.86" fill="#fef5ef" stroke="none" stroke-width="1" />
<rect x="388.47" y="751.50" width="27.97" height="19.86" fill="#f8f8fc" stroke="none" stroke-width="1" />
<rect x="416.44" y="751.50" width="27.97" height="19.86" fill="#f3a571" stroke="none" stroke-width="1" />
<rect x="444.41" y="751.50" width="27.97" height="19.86" fill="#fde8da" stroke="none" stroke-width="1" />
<rect x="472.38" y="751.50" width="27.97" height="19.86" fill="#f09458" stroke="none" stroke-width="1" />
<rect x="500.35" y="751.50" width="27.97" height="19.86" fill="#f8c09c" stroke="none" stroke-width="1" />
<rect x="528.32" y="751.50" width="27.97" height="19.86" fill="#fde6d7" stroke="none" stroke-width="1" />
<rect x="556.29" y="751.50" width="27.97" height="19.86" fill="#fde7d9" stroke="none" stroke-width="1" />
<rect x="360.50" y="771.36" width="27.97" height="19.86" fill="#f19659" stroke="none" stroke-width="1" />
<rect x="388.47" y="771.36" width="27.97" height="19.86" fill="#ec6f24" stroke="none" stroke-width="1" />
<rect x="416.44" y="771.36" width="27.97" height="19.86" fill="#ffffff" stroke="none" stroke-width="1" />
<rect x="444.41" y="771.36" width="27.97" height="19.86" fill="#fff8f4" stroke="none" stroke-width="1" />
<rect x="472.38" y="771.36" width="27.97" height="19.86" fill="#eaeaf5" stroke="none" stroke-width="1" />
<rect x="500.35" y="771.36" width="27.97" height="19.86" fill="#e4e5f3" stroke="none" stroke-width="1" />
<rect x="528.32" y="771.36" width="27.97" height="19.86" fill="#f3f3f9" stroke="none" stroke-width="1" />
<rect x="556.29" y="771.36" width="27.97" height="19.86" fill="#fef0e6" stroke="none" stroke-width="1" />
<rect x="360.50" y="791.22" width="27.97" height="19.86" fill="#ffffff" stroke="none" stroke-width="1" />
<rect x="388.47" y="791.22" width="27.97" height="19.86" fill="#ececf6" stroke="none" stroke-width="1" />
<rect x="416.44" y="791.22" width="27.97" height="19.86" fill="#fbd9c4" stroke="none" stroke-width="1" />
<rect x="444.41" y="791.22" width="27.97" height="19.86" fill="#f3f3f9" stroke="none" stroke-width="1" />
<rect x="472.38" y="791.22" width="27.97" height="19.86" fill="#f7f7fb" stroke="none" stroke-width="1" />
<rect x="500.35" y="791.22" width="27.97" height="19.86" fill="#fffaf7" stroke="none" stroke-width="1" />
<rect x="528.32" y="791.22" width="27.97" height="19.86" fill="#fefefe" stroke="none" stroke-width="1" />
<rect x="556.29" y="791.22" width="27.97" height="19.86" fill="#e1e1f1" stroke="none" stroke-width="1" />
<line x1="360.50" y1="652.20" x2="360.50" y2="811.08" stroke="#7c7c7c" stroke-width="1.5" />
<line x1="388.47" y1="652.20" x2="388.47" y2="811.08" stroke="#7c7c7c" stroke-width="1.5" />
<line x1="416.44" y1="652.20" x2="416.44" y2="811.08" stroke="#7c7c7c" stroke-width="1.5" />
<line x1="444.41" y1="652.20" x2="444.41" y2="811.08" stroke="#7c7c7c" stroke-width="1.5" />
<line x1="472.38" y1="652.20" x2="472.38" y2="811.08" stroke="#7c7c7c" stroke-width="1.5" />
<line x1="500.35" y1="652.20" x2="500.35" y2="811.08" stroke="#7c7c7c" stroke-width="1.5" />
<line x1="528.32" y1="652.20" x2="528.32" y2="811.08" stroke="#7c7c7c" stroke-width="1.5" />
<line x1="556.29" y1="652.20" x2="556.29" y2="811.08" stroke="#7c7c7c" stroke-width="1.5" />
<line x1="584.26" y1="652.20" x2="584.26" y2="811.08" stroke="#7c7c7c" stroke-width="1.5" />
<line x1="360.50" y1="652.20" x2="584.26" y2="652.20" stroke="#7c7c7c" stroke-width="1.5" />
<line x1="360.50" y1="672.06" x2="584.26" y2="672.06" stroke="#7c7c7c" stroke-width="1.5" />
<line x1="360.50" y1="691.92" x2="584.26" y2="691.92" stroke="#7c7c7c" stroke-width="1.5" />
<line x1="360.50" y1="711.78" x2="584.26" y2="711.78" stroke="#7c7c7c" stroke-width="1.5" />
<line x1="360.50" y1="731.64" x2="584.26" y2="731.64" stroke="#7c7c7c" stroke-width="1.5" />
<line x1="360.50" y1="751.50" x2="584.26" y2="751.50" stroke="#7c7c7c" stroke-width="1.5" />
<line x1="360.50" y1="771.36" x2="584.26" y2="771.36" stroke="#7c7c7c" stroke-width="1.5" />
<line x1="360.50" y1="791.22" x2="584.26" y2="791.22" stroke="#7c7c7c" stroke-width="1.5" />
<line x1="360.50" y1="811.08" x2="584.26" y2="811.08" stroke="#7c7c7c" stroke-width="1.5" />
<rect x="158.90" y="816.70" width="27.97" height="19.84" fill="#fdeadf" stroke="none" stroke-width="1" />
<rect x="186.87" y="816.70" width="27.97" height="19.84" fill="#d9d9ee" stroke="none" stroke-width="1" />
<rect x="214.84" y="816.70" width="27.97" height="19.84" fill="#ebebf6" stroke="none" stroke-width="1" />
<rect x="242.81" y="816.70" width="27.97" height="19.84" fill="#fde8da" stroke="none" stroke-width="1" />
<rect x="270.78" y="816.70" width="27.97" height="19.84" fill="#eeeef8" stroke="none" stroke-width="1" />
<rect x="298.75" y="816.70" width="27.97" height="19.84" fill="#ed7936" stroke="none" stroke-width="1" />
<rect x="326.72" y="816.70" width="27.97" height="19.84" fill="#fad5bd" stroke="none" stroke-width="1" />
<rect x="158.90" y="836.54" width="27.97" height="19.84" fill="#fbdcc8" stroke="none" stroke-width="1" />
<rect x="186.87" y="836.54" width="27.97" height="19.84" fill="#d9d9ee" stroke="none" stroke-width="1" />
<rect x="214.84" y="836.54" width="27.97" height="19.84" fill="#fafafd" stroke="none" stroke-width="1" />
<rect x="242.81" y="836.54" width="27.97" height="19.84" fill="#fef0e8" stroke="none" stroke-width="1" />
<rect x="270.78" y="836.54" width="27.97" height="19.84" fill="#ededf7" stroke="none" stroke-width="1" />
<rect x="298.75" y="836.54" width="27.97" height="19.84" fill="#ed7936" stroke="none" stroke-width="1" />
<rect x="326.72" y="836.54" width="27.97" height="19.84" fill="#fcdfcd" stroke="none" stroke-width="1" />
<rect x="158.90" y="856.38" width="27.97" height="19.84" fill="#fde5d6" stroke="none" stroke-width="1" />
<rect x="186.87" y="856.38" width="27.97" height="19.84" fill="#dadbef" stroke="none" stroke-width="1" />
<rect x="214.84" y="856.38" width="27.97" height="19.84" fill="#f6f6fb" stroke="none" stroke-width="1" />
<rect x="242.81" y="856.38" width="27.97" height="19.84" fill="#ffffff" stroke="none" stroke-width="1" />
<rect x="270.78" y="856.38" width="27.97" height="19.84" fill="#eaeaf6" stroke="none" stroke-width="1" />
<rect x="298.75" y="856.38" width="27.97" height="19.84" fill="#ed7936" stroke="none" stroke-width="1" />
<rect x="326.72" y="856.38" width="27.97" height="19.84" fill="#f9c8a8" stroke="none" stroke-width="1" />
<rect x="158.90" y="876.22" width="27.97" height="19.84" fill="#f9c8a8" stroke="none" stroke-width="1" />
<rect x="186.87" y="876.22" width="27.97" height="19.84" fill="#d9dbef" stroke="none" stroke-width="1" />
<rect x="214.84" y="876.22" width="27.97" height="19.84" fill="#f5f5fb" stroke="none" stroke-width="1" />
<rect x="242.81" y="876.22" width="27.97" height="19.84" fill="#fde9dc" stroke="none" stroke-width="1" />
<rect x="270.78" y="876.22" width="27.97" height="19.84" fill="#efeff8" stroke="none" stroke-width="1" />
<rect x="298.75" y="876.22" width="27.97" height="19.84" fill="#ef8a4b" stroke="none" stroke-width="1" />
<rect x="326.72" y="876.22" width="27.97" height="19.84" fill="#f9caac" stroke="none" stroke-width="1" />
<rect x="158.90" y="896.06" width="27.97" height="19.84" fill="#facdb1" stroke="none" stroke-width="1" />
<rect x="186.87" y="896.06" width="27.97" height="19.84" fill="#dbdcf0" stroke="none" stroke-width="1" />
<rect x="214.84" y="896.06" width="27.97" height="19.84" fill="#e9e9f5" stroke="none" stroke-width="1" />
<rect x="242.81" y="896.06" width="27.97" height="19.84" fill="#ffffff" stroke="none" stroke-width="1" />
<rect x="270.78" y="896.06" width="27.97" height="19.84" fill="#fafafd" stroke="none" stroke-width="1" />
<rect x="298.75" y="896.06" width="27.97" height="19.84" fill="#ed7a37" stroke="none" stroke-width="1" />
<rect x="326.72" y="896.06" width="27.97" height="19.84" fill="#fde1cf" stroke="none" stroke-width="1" />
<rect x="158.90" y="915.90" width="27.97" height="19.84" fill="#f5ab7c" stroke="none" stroke-width="1" />
<rect x="186.87" y="915.90" width="27.97" height="19.84" fill="#e9e9f6" stroke="none" stroke-width="1" />
<rect x="214.84" y="915.90" width="27.97" height="19.84" fill="#e7e8f5" stroke="none" stroke-width="1" />
<rect x="242.81" y="915.90" width="27.97" height="19.84" fill="#fffaf5" stroke="none" stroke-width="1" />
<rect x="270.78" y="915.90" width="27.97" height="19.84" fill="#fde0cd" stroke="none" stroke-width="1" />
<rect x="298.75" y="915.90" width="27.97" height="19.84" fill="#ef8a4c" stroke="none" stroke-width="1" />
<rect x="326.72" y="915.90" width="27.97" height="19.84" fill="#fafafd" stroke="none" stroke-width="1" />
<rect x="158.90" y="935.74" width="27.97" height="19.84" fill="#fffaf6" stroke="none" stroke-width="1" />
<rect x="186.87" y="935.74" width="27.97" height="19.84" fill="#ebebf6" stroke="none" stroke-width="1" />
<rect x="214.84" y="935.74" width="27.97" height="19.84" fill="#e7e7f4" stroke="none" stroke-width="1" />
<rect x="242.81" y="935.74" width="27.97" height="19.84" fill="#fff4ed" stroke="none" stroke-width="1" />
<rect x="270.78" y="935.74" width="27.97" height="19.84" fill="#e2e2f2" stroke="none" stroke-width="1" />
<rect x="298.75" y="935.74" width="27.97" height="19.84" fill="#ed7630" stroke="none" stroke-width="1" />
<rect x="326.72" y="935.74" width="27.97" height="19.84" fill="#fbdbc5" stroke="none" stroke-width="1" />
<line x1="158.90" y1="816.70" x2="158.90" y2="955.58" stroke="#7c7c7c" stroke-width="1.5" />
<line x1="186.87" y1="816.70" x2="186.87" y2="955.58" stroke="#7c7c7c" stroke-width="1.5" />
<line x1="214.84" y1="816.70" x2="214.84" y2="955.58" stroke="#7c7c7c" stroke-width="1.5" />
<line x1="242.81" y1="816.70" x2="242.81" y2="955.58" stroke="#7c7c7c" stroke-width="1.5" />
<line x1="270.78" y1="816.70" x2="270.78" y2="955.58" stroke="#7c7c7c" stroke-width="1.5" />
<line x1="298.75" y1="816.70" x2="298.75" y2="955.58" stroke="#7c7c7c" stroke-width="1.5" />
<line x1="326.72" y1="816.70" x2="326.72" y2="955.58" stroke="#7c7c7c" stroke-width="1.5" />
<line x1="354.69" y1="816.70" x2="354.69" y2="955.58" stroke="#7c7c7c" stroke-width="1.5" />
<line x1="158.90" y1="816.70" x2="354.69" y2="816.70" stroke="#7c7c7c" stroke-width="1.5" />
<line x1="158.90" y1="836.54" x2="354.69" y2="836.54" stroke="#7c7c7c" stroke-width="1.5" />
<line x1="158.90" y1="856.38" x2="354.69" y2="856.38" stroke="#7c7c7c" stroke-width="1.5" />
<line x1="158.90" y1="876.22" x2="354.69" y2="876.22" stroke="#7c7c7c" stroke-width="1.5" />
<line x1="158.90" y1="896.06" x2="354.69" y2="896.06" stroke="#7c7c7c" stroke-width="1.5" />
<line x1="158.90" y1="915.90" x2="354.69" y2="915.90" stroke="#7c7c7c" stroke-width="1.5" />
<line x1="158.90" y1="935.74" x2="354.69" y2="935.74" stroke="#7c7c7c" stroke-width="1.5" />
<line x1="158.90" y1="955.58" x2="354.69" y2="955.58" stroke="#7c7c7c" stroke-width="1.5" />
<rect x="360.50" y="816.70" width="27.97" height="19.84" fill="#d9d9ee" stroke="none" stroke-width="1" />
<rect x="388.47" y="816.70" width="27.97" height="19.84" fill="#dfdff1" stroke="none" stroke-width="1" />
<rect x="416.44" y="816.70" width="27.97" height="19.84" fill="#dcdcf0" stroke="none" stroke-width="1" />
<rect x="444.41" y="816.70" width="27.97" height="19.84" fill="#dcdcf0" stroke="none" stroke-width="1" />
<rect x="472.38" y="816.70" width="27.97" height="19.84" fill="#e2e2f2" stroke="none" stroke-width="1" />
<rect x="500.35" y="816.70" width="27.97" height="19.84" fill="#dcdcf0" stroke="none" stroke-width="1" />
<rect x="528.32" y="816.70" width="27.97" height="19.84" fill="#dfdff1" stroke="none" stroke-width="1" />
<rect x="556.29" y="816.70" width="27.97" height="19.84" fill="#dfdff1" stroke="none" stroke-width="1" />
<rect x="360.50" y="836.54" width="27.97" height="19.84" fill="#e4e4f4" stroke="none" stroke-width="1" />
<rect x="388.47" y="836.54" width="27.97" height="19.84" fill="#e2e2f2" stroke="none" stroke-width="1" />
<rect x="416.44" y="836.54" width="27.97" height="19.84" fill="#d9d9ee" stroke="none" stroke-width="1" />
<rect x="444.41" y="836.54" width="27.97" height="19.84" fill="#d9d9ee" stroke="none" stroke-width="1" />
<rect x="472.38" y="836.54" width="27.97" height="19.84" fill="#e2e2f2" stroke="none" stroke-width="1" />
<rect x="500.35" y="836.54" width="27.97" height="19.84" fill="#dcdcf0" stroke="none" stroke-width="1" />
<rect x="528.32" y="836.54" width="27.97" height="19.84" fill="#dcdcf0" stroke="none" stroke-width="1" />
<rect x="556.29" y="836.54" width="27.97" height="19.84" fill="#dfdff1" stroke="none" stroke-width="1" />
<rect x="360.50" y="856.38" width="27.97" height="19.84" fill="#dfdff1" stroke="none" stroke-width="1" />
<rect x="388.47" y="856.38" width="27.97" height="19.84" fill="#e2e2f2" stroke="none" stroke-width="1" />
<rect x="416.44" y="856.38" width="27.97" height="19.84" fill="#d9d9ee" stroke="none" stroke-width="1" />
<rect x="444.41" y="856.38" width="27.97" height="19.84" fill="#dcdcf0" stroke="none" stroke-width="1" />
<rect x="472.38" y="856.38" width="27.97" height="19.84" fill="#dfdff1" stroke="none" stroke-width="1" />
<rect x="500.35" y="856.38" width="27.97" height="19.84" fill="#dcdcf0" stroke="none" stroke-width="1" />
<rect x="528.32" y="856.38" width="27.97" height="19.84" fill="#dcdcf0" stroke="none" stroke-width="1" />
<rect x="556.29" y="856.38" width="27.97" height="19.84" fill="#e2e2f2" stroke="none" stroke-width="1" />
<rect x="360.50" y="876.22" width="27.97" height="19.84" fill="#d6d6ed" stroke="none" stroke-width="1" />
<rect x="388.47" y="876.22" width="27.97" height="19.84" fill="#dcdcf0" stroke="none" stroke-width="1" />
<rect x="416.44" y="876.22" width="27.97" height="19.84" fill="#d6d6ed" stroke="none" stroke-width="1" />
<rect x="444.41" y="876.22" width="27.97" height="19.84" fill="#d6d6ed" stroke="none" stroke-width="1" />
<rect x="472.38" y="876.22" width="27.97" height="19.84" fill="#e2e2f2" stroke="none" stroke-width="1" />
<rect x="500.35" y="876.22" width="27.97" height="19.84" fill="#d9d9ee" stroke="none" stroke-width="1" />
<rect x="528.32" y="876.22" width="27.97" height="19.84" fill="#d6d6ed" stroke="none" stroke-width="1" />
<rect x="556.29" y="876.22" width="27.97" height="19.84" fill="#dcdcf0" stroke="none" stroke-width="1" />
<rect x="360.50" y="896.06" width="27.97" height="19.84" fill="#dfdff1" stroke="none" stroke-width="1" />
<rect x="388.47" y="896.06" width="27.97" height="19.84" fill="#e7e7f5" stroke="none" stroke-width="1" />
<rect x="416.44" y="896.06" width="27.97" height="19.84" fill="#d9d9ee" stroke="none" stroke-width="1" />
<rect x="444.41" y="896.06" width="27.97" height="19.84" fill="#d9d9ee" stroke="none" stroke-width="1" />
<rect x="472.38" y="896.06" width="27.97" height="19.84" fill="#e2e2f2" stroke="none" stroke-width="1" />
<rect x="500.35" y="896.06" width="27.97" height="19.84" fill="#dfdff1" stroke="none" stroke-width="1" />
<rect x="528.32" y="896.06" width="27.97" height="19.84" fill="#dfdff1" stroke="none" stroke-width="1" />
<rect x="556.29" y="896.06" width="27.97" height="19.84" fill="#e2e2f2" stroke="none" stroke-width="1" />
<rect x="360.50" y="915.90" width="27.97" height="19.84" fill="#d6d6ed" stroke="none" stroke-width="1" />
<rect x="388.47" y="915.90" width="27.97" height="19.84" fill="#dcdcf0" stroke="none" stroke-width="1" />
<rect x="416.44" y="915.90" width="27.97" height="19.84" fill="#d6d6ed" stroke="none" stroke-width="1" />
<rect x="444.41" y="915.90" width="27.97" height="19.84" fill="#d6d6ed" stroke="none" stroke-width="1" />
<rect x="472.38" y="915.90" width="27.97" height="19.84" fill="#dcdcf0" stroke="none" stroke-width="1" />
<rect x="500.35" y="915.90" width="27.97" height="19.84" fill="#dfdff1" stroke="none" stroke-width="1" />
<rect x="528.32" y="915.90" width="27.97" height="19.84" fill="#d6d6ed" stroke="none" stroke-width="1" />
<rect x="556.29" y="915.90" width="27.97" height="19.84" fill="#dcdcf0" stroke="none" stroke-width="1" />
<rect x="360.50" y="935.74" width="27.97" height="19.84" fill="#e4e4f4" stroke="none" stroke-width="1" />
<rect x="388.47" y="935.74" width="27.97" height="19.84" fill="#fefefe" stroke="none" stroke-width="1" />
<rect x="416.44" y="935.74" width="27.97" height="19.84" fill="#dfdff1" stroke="none" stroke-width="1" />
<rect x="444.41" y="935.74" width="27.97" height="19.84" fill="#d6d6ed" stroke="none" stroke-width="1" />
<rect x="472.38" y="935.74" width="27.97" height="19.84" fill="#dcdcf0" stroke="none" stroke-width="1" />
<rect x="500.35" y="935.74" width="27.97" height="19.84" fill="#e4e4f4" stroke="none" stroke-width="1" />
<rect x="528.32" y="935.74" width="27.97" height="19.84" fill="#dfdff1" stroke="none" stroke-width="1" />
<rect x="556.29" y="935.74" width="27.97" height="19.84" fill="#dfdff1" stroke="none" stroke-width="1" />
<line x1="360.50" y1="816.70" x2="360.50" y2="955.58" stroke="#7c7c7c" stroke-width="1.5" />
<line x1="388.47" y1="816.70" x2="388.47" y2="955.58" stroke="#7c7c7c" stroke-width="1.5" />
<line x1="416.44" y1="816.70" x2="416.44" y2="955.58" stroke="#7c7c7c" stroke-width="1.5" />
<line x1="444.41" y1="816.70" x2="444.41" y2="955.58" stroke="#7c7c7c" stroke-width="1.5" />
<line x1="472.38" y1="816.70" x2="472.38" y2="955.58" stroke="#7c7c7c" stroke-width="1.5" />
<line x1="500.35" y1="816.70" x2="500.35" y2="955.58" stroke="#7c7c7c" stroke-width="1.5" />
<line x1="528.32" y1="816.70" x2="528.32" y2="955.58" stroke="#7c7c7c" stroke-width="1.5" />
<line x1="556.29" y1="816.70" x2="556.29" y2="955.58" stroke="#7c7c7c" stroke-width="1.5" />
<line x1="584.26" y1="816.70" x2="584.26" y2="955.58" stroke="#7c7c7c" stroke-width="1.5" />
<line x1="360.50" y1="816.70" x2="584.26" y2="816.70" stroke="#7c7c7c" stroke-width="1.5" />
<line x1="360.50" y1="836.54" x2="584.26" y2="836.54" stroke="#7c7c7c" stroke-width="1.5" />
<line x1="360.50" y1="856.38" x2="584.26" y2="856.38" stroke="#7c7c7c" stroke-width="1.5" />
<line x1="360.50" y1="876.22" x2="584.26" y2="876.22" stroke="#7c7c7c" stroke-width="1.5" />
<line x1="360.50" y1="896.06" x2="584.26" y2="896.06" stroke="#7c7c7c" stroke-width="1.5" />
<line x1="360.50" y1="915.90" x2="584.26" y2="915.90" stroke="#7c7c7c" stroke-width="1.5" />
<line x1="360.50" y1="935.74" x2="584.26" y2="935.74" stroke="#7c7c7c" stroke-width="1.5" />
<line x1="360.50" y1="955.58" x2="584.26" y2="955.58" stroke="#7c7c7c" stroke-width="1.5" />
<line x1="584.50" y1="662.13" x2="603.70" y2="662.13" stroke="#000" stroke-width="2.6" />
<line x1="713.00" y1="662.13" x2="733.50" y2="662.13" stroke="#000" stroke-width="2.6" />
<text x="658.00" y="666.13" font-size="14.4" font-style="italic" text-anchor="middle">gabT</text>
<line x1="584.50" y1="681.99" x2="603.70" y2="681.99" stroke="#000" stroke-width="2.6" />
<line x1="713.00" y1="681.99" x2="733.50" y2="681.99" stroke="#000" stroke-width="2.6" />
<text x="658.00" y="685.99" font-size="14.4" font-style="italic" text-anchor="middle">gabD</text>
<line x1="584.50" y1="701.85" x2="603.70" y2="701.85" stroke="#000" stroke-width="2.6" />
<line x1="713.00" y1="701.85" x2="733.50" y2="701.85" stroke="#000" stroke-width="2.6" />
<text x="658.00" y="705.85" font-size="14.4" font-style="italic" text-anchor="middle">gltD</text>
<line x1="584.50" y1="721.71" x2="603.70" y2="721.71" stroke="#000" stroke-width="2.6" />
<line x1="713.00" y1="721.71" x2="733.50" y2="721.71" stroke="#000" stroke-width="2.6" />
<text x="658.00" y="725.71" font-size="14.4" font-style="italic" text-anchor="middle">purF</text>
<line x1="584.50" y1="741.57" x2="603.70" y2="741.57" stroke="#000" stroke-width="2.6" />
<line x1="713.00" y1="741.57" x2="733.50" y2="741.57" stroke="#000" stroke-width="2.6" />
<text x="658.00" y="745.57" font-size="14.4" font-style="italic" text-anchor="middle">aspB</text>
<line x1="584.50" y1="761.43" x2="603.70" y2="761.43" stroke="#000" stroke-width="2.6" />
<line x1="713.00" y1="761.43" x2="733.50" y2="761.43" stroke="#000" stroke-width="2.6" />
<text x="658.00" y="765.43" font-size="14.4" font-style="italic" text-anchor="middle">argG</text>
<line x1="584.50" y1="781.29" x2="603.70" y2="781.29" stroke="#000" stroke-width="2.6" />
<line x1="713.00" y1="781.29" x2="733.50" y2="781.29" stroke="#000" stroke-width="2.6" />
<text x="658.00" y="785.29" font-size="14.4" font-style="italic" text-anchor="middle">asdA</text>
<line x1="584.50" y1="801.15" x2="603.70" y2="801.15" stroke="#000" stroke-width="2.6" />
<line x1="713.00" y1="801.15" x2="733.50" y2="801.15" stroke="#000" stroke-width="2.6" />
<text x="658.00" y="805.15" font-size="14.4" font-style="italic" text-anchor="middle">ala</text>
<line x1="584.50" y1="826.62" x2="603.70" y2="826.62" stroke="#000" stroke-width="2.6" />
<line x1="713.00" y1="826.62" x2="733.50" y2="826.62" stroke="#000" stroke-width="2.6" />
<text x="658.00" y="830.42" font-size="14" text-anchor="middle">ECP</text>
<line x1="584.50" y1="846.46" x2="603.70" y2="846.46" stroke="#000" stroke-width="2.6" />
<line x1="713.00" y1="846.46" x2="733.50" y2="846.46" stroke="#000" stroke-width="2.6" />
<text x="658.00" y="850.26" font-size="14" text-anchor="middle">F17 pili</text>
<line x1="584.50" y1="866.30" x2="603.70" y2="866.30" stroke="#000" stroke-width="2.6" />
<line x1="713.00" y1="866.30" x2="733.50" y2="866.30" stroke="#000" stroke-width="2.6" />
<text x="658.00" y="870.10" font-size="14" text-anchor="middle">F1C fimbriae</text>
<line x1="584.50" y1="886.14" x2="603.70" y2="886.14" stroke="#000" stroke-width="2.6" />
<line x1="713.00" y1="886.14" x2="733.50" y2="886.14" stroke="#000" stroke-width="2.6" />
<text x="658.00" y="889.94" font-size="14" text-anchor="middle">FdeC</text>
<line x1="584.50" y1="905.98" x2="603.70" y2="905.98" stroke="#000" stroke-width="2.6" />
<line x1="713.00" y1="905.98" x2="733.50" y2="905.98" stroke="#000" stroke-width="2.6" />
<text x="658.00" y="909.78" font-size="14" text-anchor="middle">P fimbriae</text>
<line x1="584.50" y1="925.82" x2="603.70" y2="925.82" stroke="#000" stroke-width="2.6" />
<line x1="713.00" y1="925.82" x2="733.50" y2="925.82" stroke="#000" stroke-width="2.6" />
<text x="658.00" y="929.62" font-size="14" text-anchor="middle">S fimbriae</text>
<line x1="584.50" y1="945.66" x2="603.70" y2="945.66" stroke="#000" stroke-width="2.6" />
<line x1="713.00" y1="945.66" x2="733.50" y2="945.66" stroke="#000" stroke-width="2.6" />
<text x="658.00" y="949.46" font-size="14" text-anchor="middle">Type 1 fimbriae</text>
<text x="753.50" y="628.00" font-size="14" font-weight="bold" font-style="italic" text-anchor="middle" textLength="71.5" lengthAdjust="spacingAndGlyphs">Coefficient</text>
<text x="753.50" y="645.20" font-size="14" font-weight="bold" font-style="italic" text-anchor="middle">(r)</text>
<rect x="733.20" y="651.80" width="40.60" height="20.06" fill="#e76464" stroke="none" stroke-width="1" />
<text x="753.20" y="671.08" font-size="18.5" font-weight="bold" text-anchor="middle" fill="#fff">*</text>
<rect x="733.20" y="671.56" width="40.60" height="20.06" fill="#e23c3c" stroke="none" stroke-width="1" />
<text x="753.20" y="690.84" font-size="18.5" font-weight="bold" text-anchor="middle" fill="#fff" textLength="15.6" lengthAdjust="spacingAndGlyphs">**</text>
<rect x="733.20" y="691.32" width="40.60" height="20.06" fill="#3547a0" stroke="none" stroke-width="1" />
<text x="753.20" y="710.61" font-size="18.5" font-weight="bold" text-anchor="middle" fill="#fff" textLength="15.6" lengthAdjust="spacingAndGlyphs">**</text>
<rect x="733.20" y="711.09" width="40.60" height="20.06" fill="#3949a2" stroke="none" stroke-width="1" />
<text x="753.20" y="730.37" font-size="18.5" font-weight="bold" text-anchor="middle" fill="#fff" textLength="15.6" lengthAdjust="spacingAndGlyphs">**</text>
<rect x="733.20" y="730.85" width="40.60" height="20.06" fill="#4a57aa" stroke="none" stroke-width="1" />
<text x="753.20" y="750.13" font-size="18.5" font-weight="bold" text-anchor="middle" fill="#fff">*</text>
<rect x="733.20" y="750.61" width="40.60" height="20.06" fill="#3547a0" stroke="none" stroke-width="1" />
<text x="753.20" y="769.89" font-size="18.5" font-weight="bold" text-anchor="middle" fill="#fff" textLength="15.6" lengthAdjust="spacingAndGlyphs">**</text>
<rect x="733.20" y="770.38" width="40.60" height="20.06" fill="#4251a6" stroke="none" stroke-width="1" />
<text x="753.20" y="789.66" font-size="18.5" font-weight="bold" text-anchor="middle" fill="#fff" textLength="15.6" lengthAdjust="spacingAndGlyphs">**</text>
<rect x="733.20" y="790.14" width="40.60" height="20.06" fill="#3547a0" stroke="none" stroke-width="1" />
<text x="753.20" y="809.42" font-size="18.5" font-weight="bold" text-anchor="middle" fill="#fff" textLength="15.6" lengthAdjust="spacingAndGlyphs">**</text>
<rect x="733.20" y="820.00" width="40.60" height="19.26" fill="#e33434" stroke="none" stroke-width="1" />
<text x="753.20" y="838.68" font-size="18.5" font-weight="bold" text-anchor="middle" fill="#fff" textLength="15.6" lengthAdjust="spacingAndGlyphs">**</text>
<rect x="733.20" y="838.96" width="40.60" height="19.26" fill="#e54a4a" stroke="none" stroke-width="1" />
<text x="753.20" y="857.64" font-size="18.5" font-weight="bold" text-anchor="middle" fill="#fff" textLength="15.6" lengthAdjust="spacingAndGlyphs">**</text>
<rect x="733.20" y="857.91" width="40.60" height="19.26" fill="#e33f3f" stroke="none" stroke-width="1" />
<text x="753.20" y="876.59" font-size="18.5" font-weight="bold" text-anchor="middle" fill="#fff" textLength="15.6" lengthAdjust="spacingAndGlyphs">**</text>
<rect x="733.20" y="876.87" width="40.60" height="19.26" fill="#e34242" stroke="none" stroke-width="1" />
<text x="753.20" y="895.55" font-size="18.5" font-weight="bold" text-anchor="middle" fill="#fff" textLength="15.6" lengthAdjust="spacingAndGlyphs">**</text>
<rect x="733.20" y="895.83" width="40.60" height="19.26" fill="#e54949" stroke="none" stroke-width="1" />
<text x="753.20" y="914.51" font-size="18.5" font-weight="bold" text-anchor="middle" fill="#fff" textLength="15.6" lengthAdjust="spacingAndGlyphs">**</text>
<rect x="733.20" y="914.79" width="40.60" height="19.26" fill="#e13232" stroke="none" stroke-width="1" />
<text x="753.20" y="933.46" font-size="18.5" font-weight="bold" text-anchor="middle" fill="#fff" textLength="15.6" lengthAdjust="spacingAndGlyphs">**</text>
<rect x="733.20" y="933.74" width="40.60" height="19.26" fill="#e13636" stroke="none" stroke-width="1" />
<text x="753.20" y="952.42" font-size="18.5" font-weight="bold" text-anchor="middle" fill="#fff" textLength="15.6" lengthAdjust="spacingAndGlyphs">**</text>
<line x1="753.20" y1="952.70" x2="753.20" y2="962.90" stroke="#000" stroke-width="3" />
<text x="764.00" y="971.50" font-size="14" text-anchor="end" transform="rotate(-44 764.00 971.50)">GABA/Glu</text>
<text x="17.60" y="689.20" font-size="14">(1)</text>
<text x="22.60" y="714.60" font-size="14" font-weight="bold">KEGG:</text>
<text x="22.60" y="731.40" font-size="14" font-weight="bold">Differential genes</text>
<text x="22.60" y="748.20" font-size="14" font-weight="bold">in glutamate, as-</text>
<text x="22.60" y="765.00" font-size="14" font-weight="bold">partate and alanine</text>
<text x="22.60" y="781.80" font-size="14" font-weight="bold">metabolism</text>
<text x="20.30" y="860.10" font-size="14">(2)</text>
<text x="23.70" y="886.00" font-size="14" font-weight="bold">VFDB:</text>
<text x="23.70" y="902.60" font-size="14" font-weight="bold"><tspan font-style="italic">E.coli</tspan>-specific</text>
<text x="23.70" y="919.30" font-size="14" font-weight="bold">adhesion molecule</text>
<defs><linearGradient id="zg" x1="0" x2="1"><stop offset="0.0000" stop-color="#2a489e"/><stop offset="0.1250" stop-color="#3752a6"/><stop offset="0.2500" stop-color="#767ac0"/><stop offset="0.3750" stop-color="#bcbce2"/><stop offset="0.5000" stop-color="#ffffff"/><stop offset="0.6250" stop-color="#fbdac4"/><stop offset="0.7500" stop-color="#f6b68c"/><stop offset="0.8750" stop-color="#f0945c"/><stop offset="1.0000" stop-color="#ea7028"/></linearGradient>
<linearGradient id="rg" x1="0" x2="1"><stop offset="0" stop-color="#233c98"/><stop offset="0.25" stop-color="#6b78bd"/><stop offset="0.5" stop-color="#ffffff"/><stop offset="0.75" stop-color="#ef8a8c"/><stop offset="1" stop-color="#e32828"/></linearGradient></defs>
<rect x="208.40" y="970.50" width="162.40" height="17.00" fill="url(#zg)" stroke="#000" stroke-width="2.6" />
<text x="209.50" y="1004.60" font-size="14" text-anchor="middle">-4</text>
<line x1="229.50" y1="970.50" x2="229.50" y2="973.00" stroke="#000" stroke-width="1.2" />
<line x1="229.50" y1="985.00" x2="229.50" y2="987.50" stroke="#000" stroke-width="1.2" />
<text x="229.50" y="1004.60" font-size="14" text-anchor="middle">-3</text>
<line x1="249.50" y1="970.50" x2="249.50" y2="973.00" stroke="#000" stroke-width="1.2" />
<line x1="249.50" y1="985.00" x2="249.50" y2="987.50" stroke="#000" stroke-width="1.2" />
<text x="249.50" y="1004.60" font-size="14" text-anchor="middle">-2</text>
<line x1="269.50" y1="970.50" x2="269.50" y2="973.00" stroke="#000" stroke-width="1.2" />
<line x1="269.50" y1="985.00" x2="269.50" y2="987.50" stroke="#000" stroke-width="1.2" />
<text x="269.50" y="1004.60" font-size="14" text-anchor="middle">-1</text>
<line x1="289.50" y1="970.50" x2="289.50" y2="973.00" stroke="#000" stroke-width="1.2" />
<line x1="289.50" y1="985.00" x2="289.50" y2="987.50" stroke="#000" stroke-width="1.2" />
<text x="289.50" y="1004.60" font-size="14" text-anchor="middle">0</text>
<line x1="309.50" y1="970.50" x2="309.50" y2="973.00" stroke="#000" stroke-width="1.2" />
<line x1="309.50" y1="985.00" x2="309.50" y2="987.50" stroke="#000" stroke-width="1.2" />
<text x="309.50" y="1004.60" font-size="14" text-anchor="middle">1</text>
<line x1="329.50" y1="970.50" x2="329.50" y2="973.00" stroke="#000" stroke-width="1.2" />
<line x1="329.50" y1="985.00" x2="329.50" y2="987.50" stroke="#000" stroke-width="1.2" />
<text x="329.50" y="1004.60" font-size="14" text-anchor="middle">2</text>
<line x1="349.50" y1="970.50" x2="349.50" y2="973.00" stroke="#000" stroke-width="1.2" />
<line x1="349.50" y1="985.00" x2="349.50" y2="987.50" stroke="#000" stroke-width="1.2" />
<text x="349.50" y="1004.60" font-size="14" text-anchor="middle">3</text>
<text x="369.50" y="1004.60" font-size="14" text-anchor="middle">4</text>
<text x="203.20" y="982.80" font-size="14" text-anchor="end">z score</text>
<rect x="447.80" y="970.80" width="155.20" height="16.60" fill="url(#rg)" stroke="#000" stroke-width="2.6" />
<text x="447.80" y="1004.80" font-size="14" text-anchor="middle">-1</text>
<line x1="486.60" y1="970.80" x2="486.60" y2="973.30" stroke="#000" stroke-width="1.2" />
<line x1="486.60" y1="985.00" x2="486.60" y2="987.40" stroke="#000" stroke-width="1.2" />
<text x="486.60" y="1004.80" font-size="14" text-anchor="middle">-0.5</text>
<line x1="525.40" y1="970.80" x2="525.40" y2="973.30" stroke="#000" stroke-width="1.2" />
<line x1="525.40" y1="985.00" x2="525.40" y2="987.40" stroke="#000" stroke-width="1.2" />
<text x="525.40" y="1004.80" font-size="14" text-anchor="middle">0</text>
<line x1="564.20" y1="970.80" x2="564.20" y2="973.30" stroke="#000" stroke-width="1.2" />
<line x1="564.20" y1="985.00" x2="564.20" y2="987.40" stroke="#000" stroke-width="1.2" />
<text x="564.20" y="1004.80" font-size="14" text-anchor="middle">0.5</text>
<text x="603.00" y="1004.80" font-size="14" text-anchor="middle">1</text>
<text x="442.40" y="982.80" font-size="14" text-anchor="end">r score</text>
<text x="0.50" y="1031.70" font-size="24" font-weight="bold">F</text>
<line x1="76.20" y1="1060.40" x2="76.20" y2="1234.50" stroke="#000" stroke-width="2.9" />
<line x1="65.90" y1="1061.60" x2="76.20" y2="1061.60" stroke="#000" stroke-width="2.8" />
<text x="59.80" y="1065.40" font-size="13.9" text-anchor="end">0.06</text>
<line x1="65.90" y1="1118.67" x2="76.20" y2="1118.67" stroke="#000" stroke-width="2.8" />
<text x="59.80" y="1122.47" font-size="13.9" text-anchor="end">0.04</text>
<line x1="65.90" y1="1175.73" x2="76.20" y2="1175.73" stroke="#000" stroke-width="2.8" />
<text x="59.80" y="1179.53" font-size="13.9" text-anchor="end">0.02</text>
<line x1="65.90" y1="1232.80" x2="76.20" y2="1232.80" stroke="#000" stroke-width="2.8" />
<text x="59.80" y="1236.60" font-size="13.9" text-anchor="end">0.00</text>
<line x1="74.80" y1="1233.10" x2="203.60" y2="1233.10" stroke="#000" stroke-width="2.9" />
<line x1="106.60" y1="1233.10" x2="106.60" y2="1237.80" stroke="#000" stroke-width="2.8" />
<line x1="173.50" y1="1233.10" x2="173.50" y2="1237.80" stroke="#000" stroke-width="2.8" />
<text x="26.40" y="1146.40" font-size="13.8" font-weight="bold" text-anchor="middle" transform="rotate(-90 26.40 1146.40)">Relative abundance</text>
<rect x="84.60" y="1224.80" width="18.20" height="7.00" fill="#8ab4e0" stroke="none" stroke-width="1" rx="1.2"/>
<circle cx="88.30" cy="1223.20" r="1.80" fill="#8ab4e0" stroke="none" stroke-width="1"/>
<rect x="85.60" y="1227.60" width="16.60" height="4.20" fill="#000" stroke="none" stroke-width="1" />
<line x1="119.00" y1="1065.20" x2="119.00" y2="1120.20" stroke="#e03c3c" stroke-width="2.4" />
<line x1="115.00" y1="1065.20" x2="123.30" y2="1065.20" stroke="#e03c3c" stroke-width="2.8" />
<line x1="119.00" y1="1189.00" x2="119.00" y2="1203.10" stroke="#e03c3c" stroke-width="2.4" />
<line x1="115.00" y1="1203.10" x2="123.30" y2="1203.10" stroke="#e03c3c" stroke-width="2.8" />
<rect x="110.60" y="1120.60" width="17.00" height="68.20" fill="none" stroke="#e03c3c" stroke-width="2.6" rx="1"/>
<rect x="111.60" y="1133.70" width="15.60" height="4.40" fill="#000" stroke="none" stroke-width="1" />
<circle cx="119.00" cy="1065.20" r="1.70" fill="#e03c3c" stroke="none" stroke-width="1"/>
<circle cx="119.00" cy="1203.10" r="1.70" fill="#e03c3c" stroke="none" stroke-width="1"/>
<circle cx="120.00" cy="1122.30" r="1.70" fill="#e03c3c" stroke="none" stroke-width="1"/>
<circle cx="117.00" cy="1139.80" r="1.80" fill="#e03c3c" stroke="none" stroke-width="1"/>
<path d="M95.4,1057.7 V1051.4 H118 V1057.7" fill="none" stroke="#000" stroke-width="1.7"/>
<text x="106.50" y="1052.00" font-size="17" text-anchor="middle" textLength="13.1" lengthAdjust="spacingAndGlyphs">**</text>
<rect x="152.70" y="1229.80" width="16.80" height="3.00" fill="#000" stroke="none" stroke-width="1" />
<line x1="186.20" y1="1217.30" x2="186.20" y2="1226.50" stroke="#e03c3c" stroke-width="2.4" />
<circle cx="186.20" cy="1217.30" r="1.90" fill="#e03c3c" stroke="none" stroke-width="1"/>
<rect x="177.90" y="1226.90" width="17.60" height="4.70" fill="none" stroke="#e03c3c" stroke-width="2.4" rx="1"/>
<rect x="178.30" y="1226.20" width="16.60" height="3.60" fill="#000" stroke="none" stroke-width="1" />
<path d="M162.2,1208.3 V1202.2 H185.1 V1208.3" fill="none" stroke="#000" stroke-width="1.7"/>
<text x="173.80" y="1203.20" font-size="17" text-anchor="middle" textLength="13.2" lengthAdjust="spacingAndGlyphs">**</text>
<text x="111.50" y="1248.50" font-size="14" font-style="italic" text-anchor="end" transform="rotate(-45 111.50 1248.50)">Escherichia</text>
<text x="178.50" y="1249.00" font-size="14" font-style="italic" text-anchor="end" transform="rotate(-45 178.50 1249.00)">Shigella</text>
<text x="214.90" y="1032.10" font-size="24" font-weight="bold">G</text>
<text x="243.20" y="1039.10" font-size="14" font-weight="bold" font-style="italic" textLength="231.9" lengthAdjust="spacingAndGlyphs">qPCR: Escherichia-specific genes</text>
<line x1="298.80" y1="1047.00" x2="410.30" y2="1047.00" stroke="#000" stroke-width="1.5" />
<line x1="281.80" y1="1061.40" x2="281.80" y2="1235.20" stroke="#000" stroke-width="3" />
<line x1="271.10" y1="1233.60" x2="281.80" y2="1233.60" stroke="#000" stroke-width="2.9" />
<text x="266.20" y="1237.70" font-size="14.4" text-anchor="end">0</text>
<line x1="271.10" y1="1199.40" x2="281.80" y2="1199.40" stroke="#000" stroke-width="2.9" />
<text x="266.20" y="1203.50" font-size="14.4" text-anchor="end">2</text>
<line x1="271.10" y1="1165.20" x2="281.80" y2="1165.20" stroke="#000" stroke-width="2.9" />
<text x="266.20" y="1169.30" font-size="14.4" text-anchor="end">4</text>
<line x1="271.10" y1="1131.00" x2="281.80" y2="1131.00" stroke="#000" stroke-width="2.9" />
<text x="266.20" y="1135.10" font-size="14.4" text-anchor="end">6</text>
<line x1="271.10" y1="1096.80" x2="281.80" y2="1096.80" stroke="#000" stroke-width="2.9" />
<text x="266.20" y="1100.90" font-size="14.4" text-anchor="end">8</text>
<line x1="271.10" y1="1062.60" x2="281.80" y2="1062.60" stroke="#000" stroke-width="2.9" />
<text x="266.20" y="1066.70" font-size="14.4" text-anchor="end">10</text>
<line x1="280.30" y1="1233.80" x2="426.20" y2="1233.80" stroke="#000" stroke-width="2.9" />
<line x1="314.20" y1="1233.80" x2="314.20" y2="1239.00" stroke="#000" stroke-width="2.8" />
<line x1="384.00" y1="1233.80" x2="384.00" y2="1239.00" stroke="#000" stroke-width="2.8" />
<text x="245.60" y="1148.00" font-size="14" font-weight="bold" text-anchor="middle" transform="rotate(-90 245.60 1148.00)">Relative abundance of genes</text>
<line x1="301.40" y1="1192.56" x2="301.40" y2="1207.95" stroke="#8ab4e0" stroke-width="2.6" />
<line x1="301.40" y1="1225.05" x2="301.40" y2="1230.18" stroke="#8ab4e0" stroke-width="2.6" />
<rect x="291.60" y="1207.95" width="19.60" height="17.10" fill="none" stroke="#8ab4e0" stroke-width="2.8" rx="1.5"/>
<rect x="293.10" y="1218.47" width="16.60" height="4.60" fill="#000" stroke="none" stroke-width="1" />
<circle cx="301.40" cy="1230.18" r="2.00" fill="#8ab4e0" stroke="none" stroke-width="1"/>
<circle cx="301.40" cy="1214.79" r="2.00" fill="#8ab4e0" stroke="none" stroke-width="1"/>
<circle cx="301.40" cy="1192.56" r="2.00" fill="#8ab4e0" stroke="none" stroke-width="1"/>
<line x1="327.80" y1="1117.32" x2="327.80" y2="1167.76" stroke="#e03c3c" stroke-width="2.6" />
<line x1="327.80" y1="1201.11" x2="327.80" y2="1223.34" stroke="#e03c3c" stroke-width="2.6" />
<rect x="318.00" y="1167.76" width="19.60" height="33.35" fill="none" stroke="#e03c3c" stroke-width="2.8" rx="1.5"/>
<rect x="319.50" y="1185.13" width="16.60" height="4.60" fill="#000" stroke="none" stroke-width="1" />
<circle cx="327.80" cy="1223.34" r="2.00" fill="#e03c3c" stroke="none" stroke-width="1"/>
<circle cx="327.80" cy="1194.27" r="2.00" fill="#e03c3c" stroke="none" stroke-width="1"/>
<circle cx="327.80" cy="1179.73" r="2.00" fill="#e03c3c" stroke="none" stroke-width="1"/>
<circle cx="327.80" cy="1117.32" r="2.00" fill="#e03c3c" stroke="none" stroke-width="1"/>
<line x1="371.80" y1="1178.88" x2="371.80" y2="1211.37" stroke="#8ab4e0" stroke-width="2.6" />
<line x1="371.80" y1="1227.62" x2="371.80" y2="1229.32" stroke="#8ab4e0" stroke-width="2.6" />
<rect x="362.00" y="1211.37" width="19.60" height="16.25" fill="none" stroke="#8ab4e0" stroke-width="2.8" rx="1.5"/>
<rect x="363.50" y="1221.04" width="16.60" height="4.60" fill="#000" stroke="none" stroke-width="1" />
<circle cx="371.80" cy="1229.32" r="2.00" fill="#8ab4e0" stroke="none" stroke-width="1"/>
<circle cx="371.80" cy="1214.79" r="2.00" fill="#8ab4e0" stroke="none" stroke-width="1"/>
<circle cx="371.80" cy="1178.88" r="2.00" fill="#8ab4e0" stroke="none" stroke-width="1"/>
<line x1="397.80" y1="1079.70" x2="397.80" y2="1100.22" stroke="#e03c3c" stroke-width="2.6" />
<line x1="397.80" y1="1198.54" x2="397.80" y2="1223.34" stroke="#e03c3c" stroke-width="2.6" />
<rect x="388.40" y="1100.22" width="18.80" height="98.33" fill="none" stroke="#e03c3c" stroke-width="2.8" rx="1.5"/>
<rect x="389.90" y="1164.61" width="15.80" height="4.60" fill="#000" stroke="none" stroke-width="1" />
<circle cx="397.80" cy="1223.34" r="2.00" fill="#e03c3c" stroke="none" stroke-width="1"/>
<circle cx="397.80" cy="1189.14" r="2.00" fill="#e03c3c" stroke="none" stroke-width="1"/>
<circle cx="397.80" cy="1160.92" r="2.00" fill="#e03c3c" stroke="none" stroke-width="1"/>
<circle cx="397.80" cy="1100.22" r="2.00" fill="#e03c3c" stroke="none" stroke-width="1"/>
<circle cx="397.80" cy="1079.70" r="2.00" fill="#e03c3c" stroke="none" stroke-width="1"/>
<path d="M304.9,1107.3 V1100.6 H326.8 V1107.3" fill="none" stroke="#000" stroke-width="1.8"/>
<text x="315.60" y="1101.40" font-size="17" text-anchor="middle" textLength="13.1" lengthAdjust="spacingAndGlyphs">**</text>
<path d="M374.8,1071.7 V1065 H397.1 V1071.7" fill="none" stroke="#000" stroke-width="1.8"/>
<text x="385.60" y="1066.40" font-size="17" text-anchor="middle" textLength="13.3" lengthAdjust="spacingAndGlyphs">**</text>
<rect x="488.10" y="1035.70" width="50.60" height="21.80" fill="none" stroke="#8ab4e0" stroke-width="2.5" />
<text x="513.60" y="1050.90" font-size="14.4" text-anchor="middle">nTD</text>
<rect x="488.10" y="1067.20" width="50.60" height="22.30" fill="none" stroke="#e03c3c" stroke-width="2.5" />
<text x="513.60" y="1082.00" font-size="14.4" text-anchor="middle">hASD</text>
<text x="323.60" y="1247.80" font-size="12.6" font-style="italic" text-anchor="end" transform="rotate(-48 323.60 1247.80)">gadA</text>
<text x="393.60" y="1247.80" font-size="12.6" font-style="italic" text-anchor="end" transform="rotate(-48 393.60 1247.80)">gadB</text>
</svg>
</body></html>
